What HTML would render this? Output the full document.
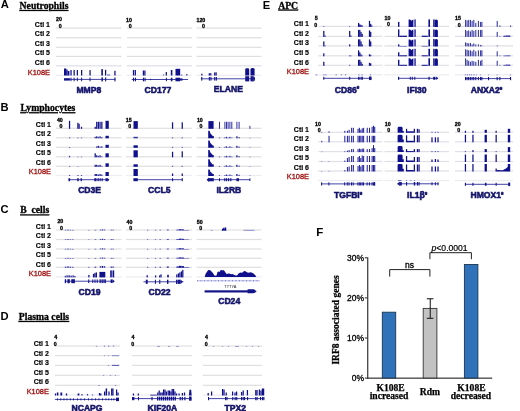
<!DOCTYPE html>
<html><head><meta charset="utf-8"><style>
html,body{margin:0;padding:0;background:#fff;}
body{width:520px;height:411px;overflow:hidden;}
svg{display:block;filter:blur(0.35px);}

</style></head><body>
<svg width="520" height="411" viewBox="0 0 520 411">
<rect width="520" height="411" fill="#fff"/>
<text x="0.8" y="8.4" font-size="11.2" text-anchor="start" font-weight="bold" fill="#000" style="font-family:&quot;Liberation Sans&quot;" >A</text>
<text x="19.6" y="9.0" font-size="9.7" text-anchor="start" font-weight="bold" fill="#000" style="font-family:&quot;Liberation Serif&quot;" text-decoration="underline" stroke="#000" stroke-width="0.3">Neutrophils</text>
<text x="50.0" y="26.7" font-size="7.0" text-anchor="end" font-weight="bold" fill="#000" style="font-family:&quot;Liberation Sans&quot;" stroke="#000" stroke-width="0.15">Ctl 1</text>
<text x="50.0" y="36.25" font-size="7.0" text-anchor="end" font-weight="bold" fill="#000" style="font-family:&quot;Liberation Sans&quot;" stroke="#000" stroke-width="0.15">Ctl 2</text>
<text x="50.0" y="45.8" font-size="7.0" text-anchor="end" font-weight="bold" fill="#000" style="font-family:&quot;Liberation Sans&quot;" stroke="#000" stroke-width="0.15">Ctl 3</text>
<text x="50.0" y="55.35" font-size="7.0" text-anchor="end" font-weight="bold" fill="#000" style="font-family:&quot;Liberation Sans&quot;" stroke="#000" stroke-width="0.15">Ctl 5</text>
<text x="50.0" y="64.9" font-size="7.0" text-anchor="end" font-weight="bold" fill="#000" style="font-family:&quot;Liberation Sans&quot;" stroke="#000" stroke-width="0.15">Ctl 6</text>
<text x="50.0" y="74.5" font-size="7.4" text-anchor="end" font-weight="normal" fill="#a01010" style="font-family:&quot;Liberation Sans&quot;" stroke="#a01010" stroke-width="0.3">K108E</text>
<rect x="56.00" y="27.50" width="65.50" height="1.20" fill="#dfdfdf" />
<rect x="56.00" y="37.20" width="65.50" height="1.20" fill="#dfdfdf" />
<rect x="56.00" y="46.70" width="65.50" height="1.20" fill="#dfdfdf" />
<rect x="56.00" y="55.80" width="65.50" height="1.20" fill="#dfdfdf" />
<rect x="56.00" y="65.10" width="65.50" height="1.20" fill="#dfdfdf" />
<rect x="56.00" y="74.70" width="65.50" height="1.20" fill="#ececf2" />
<rect x="56.00" y="65.10" width="65.50" height="1.20" fill="#e6e6f0" />
<rect x="127.00" y="27.50" width="65.00" height="1.20" fill="#dfdfdf" />
<rect x="127.00" y="37.20" width="65.00" height="1.20" fill="#dfdfdf" />
<rect x="127.00" y="46.70" width="65.00" height="1.20" fill="#dfdfdf" />
<rect x="127.00" y="55.80" width="65.00" height="1.20" fill="#dfdfdf" />
<rect x="127.00" y="65.10" width="65.00" height="1.20" fill="#dfdfdf" />
<rect x="127.00" y="74.70" width="65.00" height="1.20" fill="#ececf2" />
<rect x="127.00" y="65.10" width="65.00" height="1.20" fill="#e6e6f0" />
<rect x="196.50" y="27.50" width="65.00" height="1.20" fill="#dfdfdf" />
<rect x="196.50" y="37.20" width="65.00" height="1.20" fill="#dfdfdf" />
<rect x="196.50" y="46.70" width="65.00" height="1.20" fill="#dfdfdf" />
<rect x="196.50" y="55.80" width="65.00" height="1.20" fill="#dfdfdf" />
<rect x="196.50" y="65.10" width="65.00" height="1.20" fill="#dfdfdf" />
<rect x="196.50" y="74.70" width="65.00" height="1.20" fill="#ececf2" />
<rect x="196.50" y="65.10" width="65.00" height="1.20" fill="#e6e6f0" />
<text x="62" y="21.2" font-size="5.3" text-anchor="end" font-weight="bold" fill="#000" style="font-family:&quot;Liberation Sans&quot;" stroke="#000" stroke-width="0.3">20</text>
<text x="61.6" y="27.8" font-size="5.3" text-anchor="end" font-weight="bold" fill="#000" style="font-family:&quot;Liberation Sans&quot;" stroke="#000" stroke-width="0.3">0</text>
<text x="132" y="21.6" font-size="5.3" text-anchor="end" font-weight="bold" fill="#000" style="font-family:&quot;Liberation Sans&quot;" stroke="#000" stroke-width="0.3">10</text>
<text x="131.6" y="27.9" font-size="5.3" text-anchor="end" font-weight="bold" fill="#000" style="font-family:&quot;Liberation Sans&quot;" stroke="#000" stroke-width="0.3">0</text>
<text x="205.3" y="21.6" font-size="5.3" text-anchor="end" font-weight="bold" fill="#000" style="font-family:&quot;Liberation Sans&quot;" stroke="#000" stroke-width="0.3">120</text>
<text x="204.9" y="27.8" font-size="5.3" text-anchor="end" font-weight="bold" fill="#000" style="font-family:&quot;Liberation Sans&quot;" stroke="#000" stroke-width="0.3">0</text>
<rect x="64.00" y="68.50" width="2.20" height="7.00" fill="#10108c" />
<rect x="66.20" y="69.50" width="1.40" height="6.00" fill="#10108c" />
<rect x="67.60" y="71.00" width="1.80" height="4.50" fill="#10108c" />
<rect x="70.42" y="70.00" width="1.25" height="5.50" fill="#10108c" />
<rect x="73.52" y="70.00" width="1.25" height="5.50" fill="#10108c" />
<rect x="76.72" y="70.00" width="1.25" height="5.50" fill="#10108c" />
<rect x="81.02" y="70.00" width="1.25" height="5.50" fill="#10108c" />
<rect x="89.42" y="70.10" width="1.25" height="5.40" fill="#10108c" />
<rect x="101.30" y="69.10" width="1.60" height="6.40" fill="#10108c" />
<rect x="104.97" y="69.80" width="1.25" height="5.70" fill="#10108c" />
<rect x="107.20" y="74.50" width="2.80" height="1.00" fill="#5252b6" />
<rect x="114.33" y="70.80" width="1.25" height="4.70" fill="#10108c" />
<rect x="64.00" y="78.90" width="51.60" height="1.00" fill="#4444a8" />
<rect x="64.00" y="78.20" width="5.80" height="2.40" fill="#14148a" />
<rect x="70.50" y="77.60" width="1.00" height="3.60" fill="#14148a" />
<rect x="73.60" y="77.60" width="1.00" height="3.60" fill="#14148a" />
<rect x="76.80" y="77.60" width="1.00" height="3.60" fill="#14148a" />
<rect x="81.10" y="77.60" width="1.00" height="3.60" fill="#14148a" />
<rect x="89.50" y="77.50" width="1.00" height="3.80" fill="#14148a" />
<rect x="101.40" y="77.40" width="1.50" height="4.00" fill="#14148a" />
<rect x="105.10" y="77.40" width="1.10" height="4.00" fill="#14148a" />
<rect x="114.40" y="77.40" width="1.10" height="4.00" fill="#14148a" />
<text x="88.8" y="92.8" font-size="8.6" text-anchor="middle" font-weight="bold" fill="#14146a" style="font-family:&quot;Liberation Sans&quot;" stroke="#14146a" stroke-width="0.55">MMP8</text>
<rect x="132.88" y="70.00" width="1.25" height="5.50" fill="#10108c" />
<rect x="134.68" y="70.00" width="1.25" height="5.50" fill="#10108c" />
<rect x="142.78" y="70.50" width="1.25" height="5.00" fill="#10108c" />
<rect x="144.28" y="70.50" width="1.25" height="5.00" fill="#10108c" />
<rect x="162.92" y="74.50" width="1.25" height="1.00" fill="#5252b6" />
<rect x="165.68" y="72.00" width="1.25" height="3.50" fill="#10108c" />
<rect x="170.80" y="70.00" width="1.60" height="5.50" fill="#10108c" />
<rect x="175.50" y="68.80" width="4.70" height="6.70" fill="#10108c" />
<rect x="181.08" y="74.50" width="1.25" height="1.00" fill="#5252b6" />
<rect x="186.18" y="74.00" width="1.25" height="1.50" fill="#3434a2" />
<rect x="131.70" y="79.00" width="56.30" height="1.00" fill="#4444a8" />
<rect x="133.00" y="77.70" width="1.10" height="3.60" fill="#14148a" />
<rect x="134.90" y="77.70" width="1.10" height="3.60" fill="#14148a" />
<rect x="142.90" y="77.70" width="1.10" height="3.60" fill="#14148a" />
<rect x="144.50" y="77.70" width="1.10" height="3.60" fill="#14148a" />
<rect x="150.00" y="78.75" width="0.70" height="1.50" fill="#14148a" />
<rect x="165.90" y="77.80" width="1.00" height="3.40" fill="#14148a" />
<rect x="170.80" y="77.70" width="1.60" height="3.60" fill="#14148a" />
<rect x="175.50" y="77.70" width="4.60" height="3.60" fill="#14148a" />
<rect x="180.10" y="78.40" width="2.40" height="2.20" fill="#14148a" />
<text x="158" y="93.0" font-size="8.6" text-anchor="middle" font-weight="bold" fill="#14146a" style="font-family:&quot;Liberation Sans&quot;" stroke="#14146a" stroke-width="0.55">CD177</text>
<rect x="201.23" y="73.70" width="1.25" height="1.80" fill="#10108c" />
<rect x="208.68" y="73.20" width="1.25" height="2.30" fill="#10108c" />
<rect x="210.18" y="73.20" width="1.25" height="2.30" fill="#10108c" />
<rect x="214.07" y="72.50" width="1.25" height="3.00" fill="#10108c" />
<rect x="215.47" y="72.30" width="1.25" height="3.20" fill="#10108c" />
<path d="M245.2,75.5 V69.7 q0,-1.4 1.4,-1.4 h1.2 q1.4,0 1.4,1.4 V75.5 z" fill="#10108c"/>
<path d="M250.5,75.5 V69.5 q0,-1.5 1.5,-1.5 h1.1 q1.5,0 1.5,1.5 V75.5 z" fill="#10108c"/>
<rect x="200.90" y="78.30" width="53.70" height="1.00" fill="#4444a8" />
<rect x="201.20" y="77.00" width="1.10" height="3.60" fill="#14148a" />
<rect x="208.80" y="77.00" width="1.10" height="3.60" fill="#14148a" />
<rect x="210.40" y="77.00" width="1.10" height="3.60" fill="#14148a" />
<rect x="214.20" y="77.00" width="1.10" height="3.60" fill="#14148a" />
<rect x="215.80" y="77.00" width="1.10" height="3.60" fill="#14148a" />
<rect x="245.20" y="76.20" width="4.00" height="5.20" fill="#14148a" />
<rect x="250.50" y="76.20" width="3.00" height="5.20" fill="#14148a" />
<path d="M253.3,76.2 q1.8,0 1.8,2.6 q0,2.6 -1.8,2.6 z" fill="#14148a"/>
<text x="228.4" y="91.7" font-size="8.6" text-anchor="middle" font-weight="bold" fill="#14146a" style="font-family:&quot;Liberation Sans&quot;" stroke="#14146a" stroke-width="0.55">ELANE</text>
<text x="0.6" y="111.4" font-size="11.2" text-anchor="start" font-weight="bold" fill="#000" style="font-family:&quot;Liberation Sans&quot;" >B</text>
<text x="20.4" y="111.2" font-size="9.7" text-anchor="start" font-weight="bold" fill="#000" style="font-family:&quot;Liberation Serif&quot;" text-decoration="underline" stroke="#000" stroke-width="0.3">Lymphocytes</text>
<text x="51.0" y="126.5" font-size="7.0" text-anchor="end" font-weight="bold" fill="#000" style="font-family:&quot;Liberation Sans&quot;" stroke="#000" stroke-width="0.15">Ctl 1</text>
<text x="51.0" y="136.05" font-size="7.0" text-anchor="end" font-weight="bold" fill="#000" style="font-family:&quot;Liberation Sans&quot;" stroke="#000" stroke-width="0.15">Ctl 2</text>
<text x="51.0" y="145.6" font-size="7.0" text-anchor="end" font-weight="bold" fill="#000" style="font-family:&quot;Liberation Sans&quot;" stroke="#000" stroke-width="0.15">Ctl 3</text>
<text x="51.0" y="155.15" font-size="7.0" text-anchor="end" font-weight="bold" fill="#000" style="font-family:&quot;Liberation Sans&quot;" stroke="#000" stroke-width="0.15">Ctl 5</text>
<text x="51.0" y="164.7" font-size="7.0" text-anchor="end" font-weight="bold" fill="#000" style="font-family:&quot;Liberation Sans&quot;" stroke="#000" stroke-width="0.15">Ctl 6</text>
<text x="51.0" y="174.25" font-size="7.4" text-anchor="end" font-weight="normal" fill="#a01010" style="font-family:&quot;Liberation Sans&quot;" stroke="#a01010" stroke-width="0.3">K108E</text>
<rect x="56.00" y="127.70" width="65.50" height="1.20" fill="#dfdfdf" />
<rect x="56.00" y="137.20" width="65.50" height="1.20" fill="#dfdfdf" />
<rect x="56.00" y="146.70" width="65.50" height="1.20" fill="#dfdfdf" />
<rect x="56.00" y="156.20" width="65.50" height="1.20" fill="#dfdfdf" />
<rect x="56.00" y="165.70" width="65.50" height="1.20" fill="#dfdfdf" />
<rect x="56.00" y="174.90" width="65.50" height="1.20" fill="#ececf2" />
<rect x="126.00" y="127.70" width="66.00" height="1.20" fill="#dfdfdf" />
<rect x="126.00" y="137.20" width="66.00" height="1.20" fill="#dfdfdf" />
<rect x="126.00" y="146.70" width="66.00" height="1.20" fill="#dfdfdf" />
<rect x="126.00" y="156.20" width="66.00" height="1.20" fill="#dfdfdf" />
<rect x="126.00" y="165.70" width="66.00" height="1.20" fill="#dfdfdf" />
<rect x="126.00" y="174.90" width="66.00" height="1.20" fill="#ececf2" />
<rect x="196.50" y="127.70" width="65.00" height="1.20" fill="#dfdfdf" />
<rect x="196.50" y="137.20" width="65.00" height="1.20" fill="#dfdfdf" />
<rect x="196.50" y="146.70" width="65.00" height="1.20" fill="#dfdfdf" />
<rect x="196.50" y="156.20" width="65.00" height="1.20" fill="#dfdfdf" />
<rect x="196.50" y="165.70" width="65.00" height="1.20" fill="#dfdfdf" />
<rect x="196.50" y="174.90" width="65.00" height="1.20" fill="#ececf2" />
<text x="62.8" y="121.5" font-size="5.3" text-anchor="end" font-weight="bold" fill="#000" style="font-family:&quot;Liberation Sans&quot;" stroke="#000" stroke-width="0.3">40</text>
<text x="62.4" y="128.0" font-size="5.3" text-anchor="end" font-weight="bold" fill="#000" style="font-family:&quot;Liberation Sans&quot;" stroke="#000" stroke-width="0.3">0</text>
<text x="131.7" y="121.6" font-size="5.3" text-anchor="end" font-weight="bold" fill="#000" style="font-family:&quot;Liberation Sans&quot;" stroke="#000" stroke-width="0.3">15</text>
<text x="131.29999999999998" y="127.8" font-size="5.3" text-anchor="end" font-weight="bold" fill="#000" style="font-family:&quot;Liberation Sans&quot;" stroke="#000" stroke-width="0.3">0</text>
<text x="202.8" y="122.2" font-size="5.3" text-anchor="end" font-weight="bold" fill="#000" style="font-family:&quot;Liberation Sans&quot;" stroke="#000" stroke-width="0.3">10</text>
<text x="202.4" y="128.3" font-size="5.3" text-anchor="end" font-weight="bold" fill="#000" style="font-family:&quot;Liberation Sans&quot;" stroke="#000" stroke-width="0.3">0</text>
<rect x="68.92" y="120.80" width="1.25" height="8.00" fill="#10108c" />
<rect x="77.28" y="122.80" width="1.25" height="6.00" fill="#10108c" />
<rect x="78.47" y="123.80" width="1.25" height="5.00" fill="#10108c" />
<rect x="80.88" y="126.80" width="1.25" height="2.00" fill="#10108c" />
<rect x="94.58" y="126.80" width="1.25" height="2.00" fill="#10108c" />
<rect x="96.12" y="121.80" width="1.25" height="7.00" fill="#10108c" />
<rect x="97.72" y="121.80" width="1.25" height="7.00" fill="#10108c" />
<rect x="99.42" y="121.80" width="1.25" height="7.00" fill="#10108c" />
<rect x="101.22" y="121.80" width="1.25" height="7.00" fill="#10108c" />
<rect x="105.50" y="120.80" width="3.30" height="8.00" fill="#10108c" />
<rect x="68.92" y="137.30" width="1.25" height="1.00" fill="#5252b6" />
<rect x="77.28" y="137.50" width="1.25" height="0.80" fill="#5252b6" />
<rect x="80.88" y="137.50" width="1.25" height="0.80" fill="#5252b6" />
<rect x="94.58" y="136.80" width="1.25" height="1.50" fill="#3434a2" />
<rect x="96.12" y="136.30" width="1.25" height="2.00" fill="#10108c" />
<rect x="97.72" y="136.80" width="1.25" height="1.50" fill="#3434a2" />
<rect x="99.42" y="136.30" width="1.25" height="2.00" fill="#10108c" />
<rect x="101.22" y="137.10" width="1.25" height="1.20" fill="#3434a2" />
<rect x="105.50" y="135.80" width="3.30" height="2.50" fill="#10108c" />
<rect x="68.92" y="147.00" width="1.25" height="0.80" fill="#5252b6" />
<rect x="96.12" y="146.30" width="1.25" height="1.50" fill="#3434a2" />
<rect x="97.72" y="145.80" width="1.25" height="2.00" fill="#10108c" />
<rect x="99.42" y="146.60" width="1.25" height="1.20" fill="#3434a2" />
<rect x="101.22" y="146.30" width="1.25" height="1.50" fill="#3434a2" />
<rect x="105.50" y="144.80" width="3.30" height="3.00" fill="#10108c" />
<rect x="68.92" y="155.80" width="1.25" height="1.50" fill="#3434a2" />
<rect x="77.28" y="156.70" width="1.25" height="0.60" fill="#5252b6" />
<rect x="80.88" y="156.70" width="1.25" height="0.60" fill="#5252b6" />
<rect x="94.58" y="153.30" width="1.25" height="4.00" fill="#10108c" />
<rect x="96.12" y="155.30" width="1.25" height="2.00" fill="#10108c" />
<rect x="97.72" y="155.80" width="1.25" height="1.50" fill="#3434a2" />
<rect x="99.42" y="155.30" width="1.25" height="2.00" fill="#10108c" />
<rect x="101.22" y="156.30" width="1.25" height="1.00" fill="#5252b6" />
<rect x="105.50" y="153.30" width="3.30" height="4.00" fill="#10108c" />
<rect x="68.92" y="166.00" width="1.25" height="0.80" fill="#5252b6" />
<rect x="77.28" y="166.30" width="1.25" height="0.50" fill="#5252b6" />
<rect x="94.58" y="164.80" width="1.25" height="2.00" fill="#10108c" />
<rect x="96.12" y="164.80" width="1.25" height="2.00" fill="#10108c" />
<rect x="97.72" y="165.30" width="1.25" height="1.50" fill="#3434a2" />
<rect x="99.42" y="164.80" width="1.25" height="2.00" fill="#10108c" />
<rect x="101.22" y="165.80" width="1.25" height="1.00" fill="#5252b6" />
<rect x="105.50" y="163.30" width="3.30" height="3.50" fill="#10108c" />
<rect x="68.92" y="175.00" width="1.25" height="1.00" fill="#5252b6" />
<rect x="77.28" y="175.00" width="1.25" height="1.00" fill="#5252b6" />
<rect x="80.88" y="175.00" width="1.25" height="1.00" fill="#5252b6" />
<rect x="94.58" y="174.00" width="1.25" height="2.00" fill="#10108c" />
<rect x="96.12" y="174.00" width="1.25" height="2.00" fill="#10108c" />
<rect x="97.72" y="174.50" width="1.25" height="1.50" fill="#3434a2" />
<rect x="99.42" y="174.00" width="1.25" height="2.00" fill="#10108c" />
<rect x="101.22" y="174.50" width="1.25" height="1.50" fill="#3434a2" />
<rect x="105.50" y="172.00" width="3.30" height="4.00" fill="#10108c" />
<rect x="68.50" y="179.20" width="40.30" height="1.00" fill="#4444a8" />
<rect x="68.50" y="178.20" width="1.60" height="3.00" fill="#14148a" />
<rect x="77.20" y="178.20" width="1.50" height="3.00" fill="#14148a" />
<rect x="80.60" y="178.20" width="1.30" height="3.00" fill="#14148a" />
<rect x="94.30" y="178.20" width="2.20" height="3.00" fill="#14148a" />
<rect x="97.50" y="178.20" width="1.30" height="3.00" fill="#14148a" />
<rect x="99.60" y="178.20" width="1.10" height="3.00" fill="#14148a" />
<rect x="101.60" y="178.20" width="1.10" height="3.00" fill="#14148a" />
<rect x="105.50" y="178.20" width="2.30" height="3.00" fill="#14148a" />
<polygon points="107.6,177.9 109.3,179.7 107.6,181.5" fill="#14148a"/>
<text x="89.6" y="193.2" font-size="8.6" text-anchor="middle" font-weight="bold" fill="#14146a" style="font-family:&quot;Liberation Sans&quot;" stroke="#14146a" stroke-width="0.55">CD3E</text>
<rect x="133.50" y="121.10" width="4.30" height="7.70" fill="#10108c" />
<rect x="171.93" y="122.30" width="1.25" height="6.50" fill="#10108c" />
<rect x="181.62" y="122.30" width="1.25" height="6.50" fill="#10108c" />
<rect x="133.50" y="136.80" width="4.30" height="1.50" fill="#3434a2" />
<rect x="171.93" y="137.30" width="1.25" height="1.00" fill="#5252b6" />
<rect x="181.62" y="137.30" width="1.25" height="1.00" fill="#5252b6" />
<rect x="133.50" y="145.30" width="4.30" height="2.50" fill="#10108c" />
<rect x="171.93" y="146.80" width="1.25" height="1.00" fill="#5252b6" />
<rect x="181.62" y="146.80" width="1.25" height="1.00" fill="#5252b6" />
<rect x="133.50" y="150.30" width="4.30" height="7.00" fill="#10108c" />
<rect x="171.93" y="151.80" width="1.25" height="5.50" fill="#10108c" />
<rect x="181.62" y="151.30" width="1.25" height="6.00" fill="#10108c" />
<rect x="133.50" y="164.30" width="4.30" height="2.50" fill="#10108c" />
<rect x="171.93" y="165.80" width="1.25" height="1.00" fill="#5252b6" />
<rect x="181.62" y="165.80" width="1.25" height="1.00" fill="#5252b6" />
<rect x="133.50" y="169.00" width="4.30" height="7.00" fill="#10108c" />
<rect x="171.93" y="173.50" width="1.25" height="2.50" fill="#10108c" />
<rect x="181.62" y="173.50" width="1.25" height="2.50" fill="#10108c" />
<rect x="133.50" y="179.20" width="49.00" height="1.00" fill="#4444a8" />
<rect x="133.50" y="178.20" width="4.30" height="3.00" fill="#14148a" />
<rect x="172.00" y="178.20" width="1.10" height="3.00" fill="#14148a" />
<rect x="181.70" y="178.20" width="1.10" height="3.00" fill="#14148a" />
<text x="159.3" y="193.2" font-size="8.6" text-anchor="middle" font-weight="bold" fill="#14146a" style="font-family:&quot;Liberation Sans&quot;" stroke="#14146a" stroke-width="0.55">CCL5</text>
<rect x="208.40" y="121.10" width="5.20" height="7.70" fill="#10108c" />
<rect x="219.00" y="121.80" width="1.00" height="7.00" fill="#3030a0" />
<rect x="224.40" y="121.80" width="1.00" height="7.00" fill="#3030a0" />
<rect x="226.00" y="121.80" width="1.00" height="7.00" fill="#3030a0" />
<rect x="227.60" y="121.80" width="1.00" height="7.00" fill="#3030a0" />
<rect x="229.40" y="121.80" width="1.00" height="7.00" fill="#3030a0" />
<rect x="231.30" y="121.80" width="1.00" height="7.00" fill="#3030a0" />
<rect x="236.40" y="121.80" width="1.00" height="7.00" fill="#3030a0" />
<rect x="238.60" y="121.80" width="1.00" height="7.00" fill="#3030a0" />
<rect x="249.40" y="125.80" width="1.00" height="3.00" fill="#3030a0" />
<polygon points="208.2,138.3 208.2,130.8 209.6,130.8 210.2,133.05 211.2,134.175 212.4,135.675 213.8,136.05 213.8,138.3" fill="#10108c"/>
<rect x="218.88" y="137.50" width="1.25" height="0.80" fill="#5252b6" />
<rect x="224.28" y="137.30" width="1.25" height="1.00" fill="#5252b6" />
<rect x="225.88" y="136.80" width="1.25" height="1.50" fill="#3434a2" />
<rect x="227.47" y="137.50" width="1.25" height="0.80" fill="#5252b6" />
<rect x="229.28" y="136.80" width="1.25" height="1.50" fill="#3434a2" />
<rect x="231.18" y="137.50" width="1.25" height="0.80" fill="#5252b6" />
<rect x="236.28" y="136.30" width="1.25" height="2.00" fill="#10108c" />
<rect x="238.47" y="137.10" width="1.25" height="1.20" fill="#3434a2" />
<rect x="249.28" y="137.80" width="1.25" height="0.50" fill="#5252b6" />
<polygon points="208.2,147.8 208.2,140.60000000000002 209.6,140.60000000000002 210.2,142.76000000000002 211.2,143.84 212.4,145.28 213.8,145.64000000000001 213.8,147.8" fill="#10108c"/>
<rect x="218.88" y="147.00" width="1.25" height="0.80" fill="#5252b6" />
<rect x="224.28" y="146.80" width="1.25" height="1.00" fill="#5252b6" />
<rect x="225.88" y="146.30" width="1.25" height="1.50" fill="#3434a2" />
<rect x="227.47" y="147.00" width="1.25" height="0.80" fill="#5252b6" />
<rect x="229.28" y="146.30" width="1.25" height="1.50" fill="#3434a2" />
<rect x="231.18" y="147.00" width="1.25" height="0.80" fill="#5252b6" />
<rect x="236.28" y="145.80" width="1.25" height="2.00" fill="#10108c" />
<rect x="238.47" y="146.60" width="1.25" height="1.20" fill="#3434a2" />
<rect x="249.28" y="147.30" width="1.25" height="0.50" fill="#5252b6" />
<polygon points="208.2,157.3 208.2,150.10000000000002 209.6,150.10000000000002 210.2,152.26000000000002 211.2,153.34 212.4,154.78 213.8,155.14000000000001 213.8,157.3" fill="#10108c"/>
<rect x="218.88" y="156.50" width="1.25" height="0.80" fill="#5252b6" />
<rect x="224.28" y="156.30" width="1.25" height="1.00" fill="#5252b6" />
<rect x="225.88" y="155.80" width="1.25" height="1.50" fill="#3434a2" />
<rect x="227.47" y="156.50" width="1.25" height="0.80" fill="#5252b6" />
<rect x="229.28" y="155.80" width="1.25" height="1.50" fill="#3434a2" />
<rect x="231.18" y="156.50" width="1.25" height="0.80" fill="#5252b6" />
<rect x="236.28" y="155.30" width="1.25" height="2.00" fill="#10108c" />
<rect x="238.47" y="156.10" width="1.25" height="1.20" fill="#3434a2" />
<rect x="249.28" y="156.80" width="1.25" height="0.50" fill="#5252b6" />
<polygon points="208.2,166.8 208.2,159.3 209.6,159.3 210.2,161.55 211.2,162.675 212.4,164.175 213.8,164.55 213.8,166.8" fill="#10108c"/>
<rect x="218.88" y="166.00" width="1.25" height="0.80" fill="#5252b6" />
<rect x="224.28" y="165.80" width="1.25" height="1.00" fill="#5252b6" />
<rect x="225.88" y="165.30" width="1.25" height="1.50" fill="#3434a2" />
<rect x="227.47" y="166.00" width="1.25" height="0.80" fill="#5252b6" />
<rect x="229.28" y="165.30" width="1.25" height="1.50" fill="#3434a2" />
<rect x="231.18" y="166.00" width="1.25" height="0.80" fill="#5252b6" />
<rect x="236.28" y="164.80" width="1.25" height="2.00" fill="#10108c" />
<rect x="238.47" y="165.60" width="1.25" height="1.20" fill="#3434a2" />
<rect x="249.28" y="166.30" width="1.25" height="0.50" fill="#5252b6" />
<polygon points="208.2,176.0 208.2,169.5 209.6,169.5 210.2,171.45 211.2,172.425 212.4,173.725 213.8,174.05 213.8,176.0" fill="#10108c"/>
<rect x="218.88" y="175.20" width="1.25" height="0.80" fill="#5252b6" />
<rect x="224.28" y="175.00" width="1.25" height="1.00" fill="#5252b6" />
<rect x="225.88" y="174.50" width="1.25" height="1.50" fill="#3434a2" />
<rect x="227.47" y="175.20" width="1.25" height="0.80" fill="#5252b6" />
<rect x="229.28" y="174.50" width="1.25" height="1.50" fill="#3434a2" />
<rect x="231.18" y="175.20" width="1.25" height="0.80" fill="#5252b6" />
<rect x="236.28" y="174.00" width="1.25" height="2.00" fill="#10108c" />
<rect x="238.47" y="174.80" width="1.25" height="1.20" fill="#3434a2" />
<rect x="249.28" y="175.50" width="1.25" height="0.50" fill="#5252b6" />
<rect x="207.00" y="179.20" width="43.00" height="1.00" fill="#4444a8" />
<rect x="208.80" y="178.10" width="5.00" height="3.20" fill="#14148a" />
<rect x="219.00" y="178.20" width="1.00" height="3.00" fill="#14148a" />
<rect x="224.20" y="178.20" width="1.20" height="3.00" fill="#14148a" />
<rect x="226.00" y="178.20" width="1.20" height="3.00" fill="#14148a" />
<rect x="228.00" y="178.20" width="1.20" height="3.00" fill="#14148a" />
<rect x="230.20" y="178.20" width="1.20" height="3.00" fill="#14148a" />
<rect x="236.40" y="178.20" width="2.60" height="3.00" fill="#14148a" />
<rect x="249.40" y="178.45" width="1.00" height="2.50" fill="#14148a" />
<polygon points="209,177.5 206.6,179.7 209,181.9" fill="#14148a"/>
<text x="228.9" y="193.2" font-size="8.6" text-anchor="middle" font-weight="bold" fill="#14146a" style="font-family:&quot;Liberation Sans&quot;" stroke="#14146a" stroke-width="0.55">IL2RB</text>
<text x="0.5" y="213.0" font-size="11.2" text-anchor="start" font-weight="bold" fill="#000" style="font-family:&quot;Liberation Sans&quot;" >C</text>
<text x="20.2" y="213.4" font-size="9.7" text-anchor="start" font-weight="bold" fill="#000" style="font-family:&quot;Liberation Serif&quot;" text-decoration="underline" stroke="#000" stroke-width="0.3">B&#160; cells</text>
<text x="51.0" y="228.6" font-size="7.0" text-anchor="end" font-weight="bold" fill="#000" style="font-family:&quot;Liberation Sans&quot;" stroke="#000" stroke-width="0.15">Ctl 1</text>
<text x="51.0" y="238.1" font-size="7.0" text-anchor="end" font-weight="bold" fill="#000" style="font-family:&quot;Liberation Sans&quot;" stroke="#000" stroke-width="0.15">Ctl 2</text>
<text x="51.0" y="247.6" font-size="7.0" text-anchor="end" font-weight="bold" fill="#000" style="font-family:&quot;Liberation Sans&quot;" stroke="#000" stroke-width="0.15">Ctl 3</text>
<text x="51.0" y="257.1" font-size="7.0" text-anchor="end" font-weight="bold" fill="#000" style="font-family:&quot;Liberation Sans&quot;" stroke="#000" stroke-width="0.15">Ctl 5</text>
<text x="51.0" y="266.6" font-size="7.0" text-anchor="end" font-weight="bold" fill="#000" style="font-family:&quot;Liberation Sans&quot;" stroke="#000" stroke-width="0.15">Ctl 6</text>
<text x="51.0" y="276.1" font-size="7.4" text-anchor="end" font-weight="normal" fill="#a01010" style="font-family:&quot;Liberation Sans&quot;" stroke="#a01010" stroke-width="0.3">K108E</text>
<rect x="56.00" y="229.40" width="65.50" height="1.20" fill="#dfdfdf" />
<rect x="56.00" y="238.90" width="65.50" height="1.20" fill="#dfdfdf" />
<rect x="56.00" y="248.40" width="65.50" height="1.20" fill="#dfdfdf" />
<rect x="56.00" y="257.60" width="65.50" height="1.20" fill="#dfdfdf" />
<rect x="56.00" y="266.70" width="65.50" height="1.20" fill="#dfdfdf" />
<rect x="56.00" y="276.30" width="65.50" height="1.20" fill="#ececf2" />
<rect x="126.00" y="229.40" width="66.00" height="1.20" fill="#dfdfdf" />
<rect x="126.00" y="238.90" width="66.00" height="1.20" fill="#dfdfdf" />
<rect x="126.00" y="248.40" width="66.00" height="1.20" fill="#dfdfdf" />
<rect x="126.00" y="257.60" width="66.00" height="1.20" fill="#dfdfdf" />
<rect x="126.00" y="266.70" width="66.00" height="1.20" fill="#dfdfdf" />
<rect x="126.00" y="276.30" width="66.00" height="1.20" fill="#ececf2" />
<rect x="196.50" y="229.40" width="65.00" height="1.20" fill="#dfdfdf" />
<rect x="196.50" y="238.90" width="65.00" height="1.20" fill="#dfdfdf" />
<rect x="196.50" y="248.40" width="65.00" height="1.20" fill="#dfdfdf" />
<rect x="196.50" y="257.60" width="65.00" height="1.20" fill="#dfdfdf" />
<rect x="196.50" y="266.70" width="65.00" height="1.20" fill="#dfdfdf" />
<rect x="196.50" y="276.30" width="65.00" height="1.20" fill="#ececf2" />
<text x="63.3" y="223.3" font-size="5.3" text-anchor="end" font-weight="bold" fill="#000" style="font-family:&quot;Liberation Sans&quot;" stroke="#000" stroke-width="0.3">20</text>
<text x="62.9" y="230.2" font-size="5.3" text-anchor="end" font-weight="bold" fill="#000" style="font-family:&quot;Liberation Sans&quot;" stroke="#000" stroke-width="0.3">0</text>
<text x="132.5" y="223.8" font-size="5.3" text-anchor="end" font-weight="bold" fill="#000" style="font-family:&quot;Liberation Sans&quot;" stroke="#000" stroke-width="0.3">40</text>
<text x="132.1" y="230.2" font-size="5.3" text-anchor="end" font-weight="bold" fill="#000" style="font-family:&quot;Liberation Sans&quot;" stroke="#000" stroke-width="0.3">0</text>
<text x="202.6" y="223.8" font-size="5.3" text-anchor="end" font-weight="bold" fill="#000" style="font-family:&quot;Liberation Sans&quot;" stroke="#000" stroke-width="0.3">50</text>
<text x="202.2" y="230.3" font-size="5.3" text-anchor="end" font-weight="bold" fill="#000" style="font-family:&quot;Liberation Sans&quot;" stroke="#000" stroke-width="0.3">0</text>
<rect x="64.80" y="229.80" width="1.60" height="0.70" fill="#5252b6" />
<rect x="67.20" y="229.60" width="1.60" height="0.90" fill="#5252b6" />
<rect x="69.60" y="229.80" width="1.60" height="0.70" fill="#5252b6" />
<rect x="72.00" y="229.90" width="1.60" height="0.60" fill="#5252b6" />
<rect x="88.28" y="229.90" width="1.25" height="0.60" fill="#5252b6" />
<rect x="94.60" y="229.80" width="1.60" height="0.70" fill="#5252b6" />
<rect x="99.80" y="229.50" width="1.40" height="1.00" fill="#5252b6" />
<rect x="101.80" y="229.30" width="1.40" height="1.20" fill="#3434a2" />
<rect x="103.80" y="229.50" width="1.40" height="1.00" fill="#5252b6" />
<rect x="110.60" y="229.70" width="1.40" height="0.80" fill="#5252b6" />
<rect x="112.40" y="229.70" width="1.40" height="0.80" fill="#5252b6" />
<rect x="64.80" y="239.30" width="1.60" height="0.70" fill="#5252b6" />
<rect x="67.20" y="239.10" width="1.60" height="0.90" fill="#5252b6" />
<rect x="69.60" y="239.30" width="1.60" height="0.70" fill="#5252b6" />
<rect x="72.00" y="239.40" width="1.60" height="0.60" fill="#5252b6" />
<rect x="88.28" y="239.40" width="1.25" height="0.60" fill="#5252b6" />
<rect x="94.60" y="239.30" width="1.60" height="0.70" fill="#5252b6" />
<rect x="99.80" y="239.00" width="1.40" height="1.00" fill="#5252b6" />
<rect x="101.80" y="238.80" width="1.40" height="1.20" fill="#3434a2" />
<rect x="103.80" y="239.00" width="1.40" height="1.00" fill="#5252b6" />
<rect x="110.60" y="239.20" width="1.40" height="0.80" fill="#5252b6" />
<rect x="112.40" y="239.20" width="1.40" height="0.80" fill="#5252b6" />
<rect x="64.80" y="248.80" width="1.60" height="0.70" fill="#5252b6" />
<rect x="67.20" y="248.60" width="1.60" height="0.90" fill="#5252b6" />
<rect x="69.60" y="248.80" width="1.60" height="0.70" fill="#5252b6" />
<rect x="72.00" y="248.90" width="1.60" height="0.60" fill="#5252b6" />
<rect x="88.28" y="248.90" width="1.25" height="0.60" fill="#5252b6" />
<rect x="94.60" y="248.80" width="1.60" height="0.70" fill="#5252b6" />
<rect x="99.80" y="248.50" width="1.40" height="1.00" fill="#5252b6" />
<rect x="101.80" y="248.30" width="1.40" height="1.20" fill="#3434a2" />
<rect x="103.80" y="248.50" width="1.40" height="1.00" fill="#5252b6" />
<rect x="110.60" y="248.70" width="1.40" height="0.80" fill="#5252b6" />
<rect x="112.40" y="248.70" width="1.40" height="0.80" fill="#5252b6" />
<rect x="64.80" y="258.00" width="1.60" height="0.70" fill="#5252b6" />
<rect x="67.20" y="257.80" width="1.60" height="0.90" fill="#5252b6" />
<rect x="69.60" y="258.00" width="1.60" height="0.70" fill="#5252b6" />
<rect x="72.00" y="258.10" width="1.60" height="0.60" fill="#5252b6" />
<rect x="88.28" y="258.10" width="1.25" height="0.60" fill="#5252b6" />
<rect x="94.60" y="258.00" width="1.60" height="0.70" fill="#5252b6" />
<rect x="99.80" y="257.70" width="1.40" height="1.00" fill="#5252b6" />
<rect x="101.80" y="257.50" width="1.40" height="1.20" fill="#3434a2" />
<rect x="103.80" y="257.70" width="1.40" height="1.00" fill="#5252b6" />
<rect x="110.60" y="257.90" width="1.40" height="0.80" fill="#5252b6" />
<rect x="112.40" y="257.90" width="1.40" height="0.80" fill="#5252b6" />
<rect x="64.80" y="266.68" width="1.60" height="1.12" fill="#3434a2" />
<rect x="67.20" y="266.36" width="1.60" height="1.44" fill="#3434a2" />
<rect x="69.60" y="266.68" width="1.60" height="1.12" fill="#3434a2" />
<rect x="72.00" y="266.84" width="1.60" height="0.96" fill="#5252b6" />
<rect x="88.28" y="266.84" width="1.25" height="0.96" fill="#5252b6" />
<rect x="94.60" y="266.68" width="1.60" height="1.12" fill="#3434a2" />
<rect x="99.80" y="266.20" width="1.40" height="1.60" fill="#3434a2" />
<rect x="101.80" y="265.88" width="1.40" height="1.92" fill="#10108c" />
<rect x="103.80" y="266.20" width="1.40" height="1.60" fill="#3434a2" />
<rect x="110.60" y="266.52" width="1.40" height="1.28" fill="#3434a2" />
<rect x="112.40" y="266.52" width="1.40" height="1.28" fill="#3434a2" />
<rect x="64.67" y="275.80" width="1.25" height="1.60" fill="#3434a2" />
<rect x="66.47" y="275.40" width="1.25" height="2.00" fill="#10108c" />
<rect x="68.47" y="275.20" width="1.25" height="2.20" fill="#10108c" />
<rect x="70.47" y="275.60" width="1.25" height="1.80" fill="#10108c" />
<rect x="72.47" y="275.40" width="1.25" height="2.00" fill="#10108c" />
<rect x="74.28" y="275.90" width="1.25" height="1.50" fill="#3434a2" />
<rect x="88.27" y="274.90" width="1.25" height="2.50" fill="#10108c" />
<rect x="92.90" y="273.90" width="1.40" height="3.50" fill="#10108c" />
<rect x="94.38" y="272.90" width="1.25" height="4.50" fill="#10108c" />
<rect x="95.77" y="272.40" width="1.25" height="5.00" fill="#10108c" />
<rect x="99.40" y="271.90" width="5.90" height="5.50" fill="#10108c" />
<rect x="110.20" y="270.40" width="1.60" height="7.00" fill="#10108c" />
<rect x="112.50" y="270.40" width="1.70" height="7.00" fill="#10108c" />
<rect x="64.70" y="280.70" width="49.50" height="1.00" fill="#4444a8" />
<rect x="64.80" y="279.20" width="1.30" height="4.00" fill="#14148a" />
<rect x="67.40" y="279.20" width="2.40" height="4.00" fill="#14148a" />
<rect x="71.30" y="279.20" width="3.60" height="4.00" fill="#14148a" />
<rect x="88.20" y="279.40" width="1.10" height="3.60" fill="#14148a" />
<rect x="92.30" y="279.40" width="1.00" height="3.60" fill="#14148a" />
<rect x="94.50" y="279.40" width="1.00" height="3.60" fill="#14148a" />
<rect x="96.70" y="279.40" width="1.00" height="3.60" fill="#14148a" />
<rect x="99.50" y="279.30" width="1.30" height="3.80" fill="#14148a" />
<rect x="101.50" y="279.30" width="1.30" height="3.80" fill="#14148a" />
<rect x="103.40" y="279.30" width="1.30" height="3.80" fill="#14148a" />
<rect x="105.00" y="279.30" width="0.90" height="3.80" fill="#14148a" />
<rect x="110.60" y="279.40" width="1.90" height="3.60" fill="#14148a" />
<polygon points="112.6,279.2 114.6,281.2 112.6,283.2" fill="#14148a"/>
<text x="89.5" y="294.8" font-size="8.6" text-anchor="middle" font-weight="bold" fill="#14146a" style="font-family:&quot;Liberation Sans&quot;" stroke="#14146a" stroke-width="0.55">CD19</text>
<rect x="146.97" y="229.80" width="1.25" height="0.70" fill="#5252b6" />
<rect x="154.88" y="229.80" width="1.25" height="0.70" fill="#5252b6" />
<rect x="159.57" y="229.70" width="1.25" height="0.80" fill="#5252b6" />
<rect x="166.80" y="229.50" width="2.00" height="1.00" fill="#5252b6" />
<rect x="176.40" y="229.50" width="2.60" height="1.00" fill="#5252b6" />
<rect x="179.00" y="229.10" width="2.60" height="1.40" fill="#3434a2" />
<rect x="181.60" y="229.30" width="2.40" height="1.20" fill="#3434a2" />
<rect x="184.00" y="230.00" width="5.00" height="0.50" fill="#5252b6" />
<rect x="146.97" y="239.30" width="1.25" height="0.70" fill="#5252b6" />
<rect x="154.88" y="239.30" width="1.25" height="0.70" fill="#5252b6" />
<rect x="159.57" y="239.20" width="1.25" height="0.80" fill="#5252b6" />
<rect x="166.80" y="239.00" width="2.00" height="1.00" fill="#5252b6" />
<rect x="176.40" y="239.00" width="2.60" height="1.00" fill="#5252b6" />
<rect x="179.00" y="238.60" width="2.60" height="1.40" fill="#3434a2" />
<rect x="181.60" y="238.80" width="2.40" height="1.20" fill="#3434a2" />
<rect x="184.00" y="239.50" width="5.00" height="0.50" fill="#5252b6" />
<rect x="146.97" y="248.80" width="1.25" height="0.70" fill="#5252b6" />
<rect x="154.88" y="248.80" width="1.25" height="0.70" fill="#5252b6" />
<rect x="159.57" y="248.70" width="1.25" height="0.80" fill="#5252b6" />
<rect x="166.80" y="248.50" width="2.00" height="1.00" fill="#5252b6" />
<rect x="176.40" y="248.50" width="2.60" height="1.00" fill="#5252b6" />
<rect x="179.00" y="248.10" width="2.60" height="1.40" fill="#3434a2" />
<rect x="181.60" y="248.30" width="2.40" height="1.20" fill="#3434a2" />
<rect x="184.00" y="249.00" width="5.00" height="0.50" fill="#5252b6" />
<rect x="146.97" y="258.00" width="1.25" height="0.70" fill="#5252b6" />
<rect x="154.88" y="258.00" width="1.25" height="0.70" fill="#5252b6" />
<rect x="159.57" y="257.90" width="1.25" height="0.80" fill="#5252b6" />
<rect x="166.80" y="257.70" width="2.00" height="1.00" fill="#5252b6" />
<rect x="176.40" y="257.70" width="2.60" height="1.00" fill="#5252b6" />
<rect x="179.00" y="257.30" width="2.60" height="1.40" fill="#3434a2" />
<rect x="181.60" y="257.50" width="2.40" height="1.20" fill="#3434a2" />
<rect x="184.00" y="258.20" width="5.00" height="0.50" fill="#5252b6" />
<rect x="146.97" y="266.82" width="1.25" height="0.98" fill="#5252b6" />
<rect x="154.88" y="266.82" width="1.25" height="0.98" fill="#5252b6" />
<rect x="159.57" y="266.68" width="1.25" height="1.12" fill="#3434a2" />
<rect x="166.80" y="266.40" width="2.00" height="1.40" fill="#3434a2" />
<rect x="176.40" y="266.40" width="2.60" height="1.40" fill="#3434a2" />
<rect x="179.00" y="265.84" width="2.60" height="1.96" fill="#10108c" />
<rect x="181.60" y="266.12" width="2.40" height="1.68" fill="#10108c" />
<rect x="184.00" y="267.10" width="5.00" height="0.70" fill="#5252b6" />
<rect x="146.57" y="275.20" width="1.25" height="2.20" fill="#10108c" />
<rect x="154.97" y="275.40" width="1.25" height="2.00" fill="#10108c" />
<rect x="159.07" y="275.40" width="1.25" height="2.00" fill="#10108c" />
<rect x="160.38" y="274.40" width="1.25" height="3.00" fill="#10108c" />
<rect x="167.20" y="274.80" width="1.60" height="2.60" fill="#10108c" />
<rect x="176.17" y="274.40" width="1.25" height="3.00" fill="#10108c" />
<rect x="177.78" y="273.40" width="1.25" height="4.00" fill="#10108c" />
<rect x="179.28" y="272.40" width="1.25" height="5.00" fill="#10108c" />
<rect x="180.78" y="271.40" width="1.25" height="6.00" fill="#10108c" />
<rect x="182.17" y="269.90" width="1.25" height="7.50" fill="#10108c" />
<rect x="143.50" y="281.30" width="39.90" height="1.00" fill="#4444a8" />
<rect x="145.80" y="279.70" width="1.90" height="4.20" fill="#14148a" />
<rect x="154.90" y="279.70" width="1.00" height="4.20" fill="#14148a" />
<rect x="159.20" y="279.70" width="1.10" height="4.20" fill="#14148a" />
<rect x="167.00" y="279.70" width="1.40" height="4.20" fill="#14148a" />
<rect x="176.00" y="279.70" width="1.60" height="4.20" fill="#14148a" />
<rect x="178.00" y="279.70" width="2.60" height="4.20" fill="#14148a" />
<polygon points="180.6,279.6 182.8,281.8 180.6,284.0" fill="#14148a"/>
<text x="159.5" y="294.8" font-size="8.6" text-anchor="middle" font-weight="bold" fill="#14146a" style="font-family:&quot;Liberation Sans&quot;" stroke="#14146a" stroke-width="0.55">CD22</text>
<rect x="210.80" y="230.00" width="1.80" height="0.50" fill="#5252b6" />
<rect x="222.00" y="229.00" width="1.80" height="1.50" fill="#3434a2" />
<rect x="224.60" y="227.50" width="1.60" height="3.00" fill="#10108c" />
<rect x="243.50" y="229.90" width="11.00" height="0.60" fill="#5252b6" />
<polygon points="221.4,230.5 223.3,227.5 224.3,229.0 225.4,227.3 226.4,230.5" fill="#10108c"/>
<polygon points="204.75,277.00 205.5,274.00 206.5,272.50 207.5,271.00 208.5,270.10 209.5,270.00 210.5,270.50 211.5,271.50 212.5,272.50 213.5,274.00 214.5,275.50 215.5,275.80 216.5,275.50 217.5,272.00 218.5,271.50 219.5,272.00 220.5,270.20 221.5,270.00 222.5,270.50 223.5,270.00 224.5,271.00 225.5,272.50 226.5,274.00 227.5,273.80 228.5,273.60 229.5,273.50 230.5,274.00 231.5,274.20 232.5,274.00 233.5,274.50 234.5,275.00 235.5,275.50 236.5,275.50 237.5,275.00 238.5,273.50 239.5,273.00 240.5,272.50 241.5,272.80 242.5,272.50 243.5,271.50 244.5,271.00 245.5,271.20 246.5,272.00 247.5,272.50 248.5,272.70 249.5,272.50 250.5,272.20 251.5,272.50 252.5,273.00 253.5,273.50 254.5,274.50 255.5,275.50 256.3,277.00" fill="#10108c"/>
<line x1="197" y1="280.8" x2="260" y2="280.8" stroke="#b8b8e6" stroke-width="1"/>
<line x1="197" y1="280.8" x2="260" y2="280.8" stroke="#7070c8" stroke-width="1" stroke-dasharray="1,2.5"/>
<text x="230.3" y="288.2" font-size="3.9" text-anchor="middle" font-weight="normal" fill="#222" style="font-family:&quot;Liberation Sans&quot;" >TTTYA</text>
<rect x="204.60" y="290.30" width="45.00" height="2.20" fill="#14148a" />
<path d="M247.6,289.3 h5.8 a2,2 0 0 1 0,4 h-5.8 z" fill="#14148a"/>
<polygon points="255.2,290 256.6,291.4 255.2,292.8" fill="#14148a"/>
<text x="229.2" y="304.2" font-size="8.6" text-anchor="middle" font-weight="bold" fill="#14146a" style="font-family:&quot;Liberation Sans&quot;" stroke="#14146a" stroke-width="0.55">CD24</text>
<text x="0.5" y="320.0" font-size="11.2" text-anchor="start" font-weight="bold" fill="#000" style="font-family:&quot;Liberation Sans&quot;" >D</text>
<text x="18.8" y="320.0" font-size="9.7" text-anchor="start" font-weight="bold" fill="#000" style="font-family:&quot;Liberation Serif&quot;" text-decoration="underline" stroke="#000" stroke-width="0.3">Plasma cells</text>
<text x="48.9" y="345.9" font-size="7.0" text-anchor="end" font-weight="bold" fill="#000" style="font-family:&quot;Liberation Sans&quot;" stroke="#000" stroke-width="0.15">Ctl 1</text>
<text x="48.9" y="355.5" font-size="7.0" text-anchor="end" font-weight="bold" fill="#000" style="font-family:&quot;Liberation Sans&quot;" stroke="#000" stroke-width="0.15">Ctl 2</text>
<text x="48.9" y="365.1" font-size="7.0" text-anchor="end" font-weight="bold" fill="#000" style="font-family:&quot;Liberation Sans&quot;" stroke="#000" stroke-width="0.15">Ctl 3</text>
<text x="48.9" y="374.8" font-size="7.0" text-anchor="end" font-weight="bold" fill="#000" style="font-family:&quot;Liberation Sans&quot;" stroke="#000" stroke-width="0.15">Ctl 5</text>
<text x="48.9" y="384.4" font-size="7.0" text-anchor="end" font-weight="bold" fill="#000" style="font-family:&quot;Liberation Sans&quot;" stroke="#000" stroke-width="0.15">Ctl 6</text>
<text x="48.9" y="394.3" font-size="7.4" text-anchor="end" font-weight="normal" fill="#a01010" style="font-family:&quot;Liberation Sans&quot;" stroke="#a01010" stroke-width="0.3">K108E</text>
<rect x="54.90" y="345.40" width="65.10" height="1.20" fill="#dfdfdf" />
<rect x="54.90" y="355.00" width="65.10" height="1.20" fill="#dfdfdf" />
<rect x="54.90" y="364.80" width="65.10" height="1.20" fill="#dfdfdf" />
<rect x="54.90" y="374.70" width="65.10" height="1.20" fill="#dfdfdf" />
<rect x="54.90" y="384.70" width="65.10" height="1.20" fill="#dfdfdf" />
<rect x="54.90" y="394.40" width="65.10" height="1.20" fill="#ececf2" />
<rect x="132.20" y="345.40" width="59.80" height="1.20" fill="#dfdfdf" />
<rect x="132.20" y="355.00" width="59.80" height="1.20" fill="#dfdfdf" />
<rect x="132.20" y="364.80" width="59.80" height="1.20" fill="#dfdfdf" />
<rect x="132.20" y="374.70" width="59.80" height="1.20" fill="#dfdfdf" />
<rect x="132.20" y="384.70" width="59.80" height="1.20" fill="#dfdfdf" />
<rect x="132.20" y="394.40" width="59.80" height="1.20" fill="#ececf2" />
<rect x="202.80" y="345.40" width="59.20" height="1.20" fill="#dfdfdf" />
<rect x="202.80" y="355.00" width="59.20" height="1.20" fill="#dfdfdf" />
<rect x="202.80" y="364.80" width="59.20" height="1.20" fill="#dfdfdf" />
<rect x="202.80" y="374.70" width="59.20" height="1.20" fill="#dfdfdf" />
<rect x="202.80" y="384.70" width="59.20" height="1.20" fill="#dfdfdf" />
<rect x="202.80" y="394.40" width="59.20" height="1.20" fill="#ececf2" />
<text x="57.2" y="339.0" font-size="5.3" text-anchor="end" font-weight="bold" fill="#000" style="font-family:&quot;Liberation Sans&quot;" stroke="#000" stroke-width="0.3">4</text>
<text x="56.800000000000004" y="345.8" font-size="5.3" text-anchor="end" font-weight="bold" fill="#000" style="font-family:&quot;Liberation Sans&quot;" stroke="#000" stroke-width="0.3">0</text>
<text x="134.5" y="339.0" font-size="5.3" text-anchor="end" font-weight="bold" fill="#000" style="font-family:&quot;Liberation Sans&quot;" stroke="#000" stroke-width="0.3">4</text>
<text x="134.1" y="345.8" font-size="5.3" text-anchor="end" font-weight="bold" fill="#000" style="font-family:&quot;Liberation Sans&quot;" stroke="#000" stroke-width="0.3">0</text>
<text x="208.0" y="339.0" font-size="5.3" text-anchor="end" font-weight="bold" fill="#000" style="font-family:&quot;Liberation Sans&quot;" stroke="#000" stroke-width="0.3">4</text>
<text x="207.6" y="345.8" font-size="5.3" text-anchor="end" font-weight="bold" fill="#000" style="font-family:&quot;Liberation Sans&quot;" stroke="#000" stroke-width="0.3">0</text>
<rect x="95.88" y="345.90" width="1.25" height="0.60" fill="#5252b6" />
<rect x="103.88" y="345.70" width="1.25" height="0.80" fill="#5252b6" />
<rect x="108.00" y="345.70" width="1.50" height="0.80" fill="#5252b6" />
<rect x="112.88" y="345.70" width="1.25" height="0.80" fill="#5252b6" />
<rect x="103.88" y="355.60" width="1.25" height="0.50" fill="#5252b6" />
<rect x="107.88" y="355.60" width="1.25" height="0.50" fill="#5252b6" />
<rect x="112.00" y="355.50" width="7.00" height="0.60" fill="#5252b6" />
<rect x="107.88" y="365.30" width="1.25" height="0.60" fill="#5252b6" />
<rect x="112.00" y="364.90" width="7.00" height="1.00" fill="#5252b6" />
<rect x="102.88" y="375.30" width="1.25" height="0.50" fill="#5252b6" />
<rect x="109.88" y="375.30" width="1.25" height="0.50" fill="#5252b6" />
<rect x="114.88" y="375.30" width="1.25" height="0.50" fill="#5252b6" />
<rect x="98.00" y="385.30" width="2.00" height="0.50" fill="#5252b6" />
<rect x="114.88" y="385.20" width="1.25" height="0.60" fill="#5252b6" />
<rect x="54.83" y="393.50" width="1.25" height="2.00" fill="#10108c" />
<rect x="56.80" y="392.50" width="1.60" height="3.00" fill="#10108c" />
<rect x="60.40" y="392.50" width="1.80" height="3.00" fill="#10108c" />
<rect x="65.80" y="393.50" width="1.40" height="2.00" fill="#10108c" />
<rect x="77.60" y="393.50" width="1.80" height="2.00" fill="#10108c" />
<rect x="81.38" y="394.00" width="1.25" height="1.50" fill="#3434a2" />
<rect x="86.88" y="394.00" width="1.25" height="1.50" fill="#3434a2" />
<rect x="91.88" y="394.50" width="1.25" height="1.00" fill="#5252b6" />
<rect x="98.88" y="393.00" width="1.25" height="2.50" fill="#10108c" />
<rect x="100.17" y="393.50" width="1.25" height="2.00" fill="#10108c" />
<rect x="103.97" y="391.50" width="1.25" height="4.00" fill="#10108c" />
<rect x="105.60" y="388.50" width="1.50" height="7.00" fill="#10108c" />
<rect x="108.38" y="391.50" width="1.25" height="4.00" fill="#10108c" />
<rect x="111.08" y="388.50" width="1.25" height="7.00" fill="#10108c" />
<rect x="112.28" y="388.50" width="1.25" height="7.00" fill="#10108c" />
<rect x="115.97" y="389.50" width="1.25" height="6.00" fill="#10108c" />
<rect x="117.38" y="392.50" width="1.25" height="3.00" fill="#10108c" />
<rect x="54.90" y="398.90" width="63.60" height="1.00" fill="#4444a8" />
<rect x="57.00" y="398.40" width="0.90" height="2.00" fill="#14148a" />
<rect x="60.30" y="398.40" width="0.90" height="2.00" fill="#14148a" />
<rect x="63.50" y="398.40" width="0.90" height="2.00" fill="#14148a" />
<rect x="66.50" y="398.40" width="0.90" height="2.00" fill="#14148a" />
<rect x="69.80" y="398.40" width="0.90" height="2.00" fill="#14148a" />
<rect x="73.00" y="398.40" width="0.90" height="2.00" fill="#14148a" />
<rect x="77.00" y="398.40" width="0.90" height="2.00" fill="#14148a" />
<rect x="80.50" y="398.40" width="0.90" height="2.00" fill="#14148a" />
<rect x="84.00" y="398.40" width="0.90" height="2.00" fill="#14148a" />
<rect x="88.00" y="398.40" width="0.90" height="2.00" fill="#14148a" />
<rect x="91.50" y="398.40" width="0.90" height="2.00" fill="#14148a" />
<rect x="95.00" y="398.40" width="0.90" height="2.00" fill="#14148a" />
<rect x="98.50" y="398.40" width="0.90" height="2.00" fill="#14148a" />
<rect x="102.00" y="398.40" width="0.90" height="2.00" fill="#14148a" />
<rect x="105.50" y="398.40" width="0.90" height="2.00" fill="#14148a" />
<rect x="108.30" y="398.40" width="0.90" height="2.00" fill="#14148a" />
<rect x="111.20" y="398.40" width="0.90" height="2.00" fill="#14148a" />
<rect x="113.40" y="398.40" width="0.90" height="2.00" fill="#14148a" />
<rect x="116.00" y="397.65" width="3.00" height="3.50" fill="#14148a" />
<text x="87" y="410.8" font-size="8.6" text-anchor="middle" font-weight="bold" fill="#14146a" style="font-family:&quot;Liberation Sans&quot;" stroke="#14146a" stroke-width="0.55">NCAPG</text>
<rect x="157.00" y="346.00" width="3.00" height="0.50" fill="#5252b6" />
<rect x="168.00" y="346.00" width="2.00" height="0.50" fill="#5252b6" />
<rect x="176.00" y="346.00" width="3.00" height="0.50" fill="#5252b6" />
<rect x="150.20" y="394.70" width="6.70" height="0.80" fill="#10108c" />
<rect x="132.78" y="393.50" width="1.25" height="2.00" fill="#10108c" />
<rect x="137.67" y="393.50" width="1.25" height="2.00" fill="#10108c" />
<rect x="157.17" y="392.50" width="1.25" height="3.00" fill="#10108c" />
<rect x="158.57" y="390.50" width="1.25" height="5.00" fill="#10108c" />
<rect x="160.17" y="392.50" width="1.25" height="3.00" fill="#10108c" />
<rect x="161.57" y="392.50" width="1.25" height="3.00" fill="#10108c" />
<rect x="162.97" y="389.50" width="1.25" height="6.00" fill="#10108c" />
<rect x="164.38" y="389.50" width="1.25" height="6.00" fill="#10108c" />
<rect x="165.78" y="391.50" width="1.25" height="4.00" fill="#10108c" />
<rect x="167.57" y="390.50" width="1.25" height="5.00" fill="#10108c" />
<rect x="168.97" y="390.50" width="1.25" height="5.00" fill="#10108c" />
<rect x="170.38" y="391.50" width="1.25" height="4.00" fill="#10108c" />
<rect x="171.57" y="389.00" width="1.25" height="6.50" fill="#10108c" />
<rect x="172.97" y="389.00" width="1.25" height="6.50" fill="#10108c" />
<rect x="174.38" y="391.50" width="1.25" height="4.00" fill="#10108c" />
<rect x="175.97" y="393.50" width="1.25" height="2.00" fill="#10108c" />
<rect x="178.47" y="393.50" width="1.25" height="2.00" fill="#10108c" />
<rect x="181.78" y="393.00" width="1.25" height="2.50" fill="#10108c" />
<rect x="183.88" y="392.50" width="1.25" height="3.00" fill="#10108c" />
<polygon points="188.9,395.5 189.4,390.5 190.3,389.3 191.2,390.5 191.7,395.5" fill="#10108c"/>
<rect x="132.20" y="398.10" width="59.30" height="1.00" fill="#4444a8" />
<rect x="132.00" y="397.00" width="2.40" height="3.20" fill="#14148a" />
<rect x="138.00" y="396.90" width="1.00" height="3.40" fill="#14148a" />
<rect x="151.40" y="396.90" width="1.20" height="3.40" fill="#14148a" />
<rect x="157.00" y="396.70" width="1.40" height="3.80" fill="#14148a" />
<rect x="158.95" y="396.70" width="1.40" height="3.80" fill="#14148a" />
<rect x="160.90" y="396.70" width="1.40" height="3.80" fill="#14148a" />
<rect x="162.85" y="396.70" width="1.40" height="3.80" fill="#14148a" />
<rect x="164.80" y="396.70" width="1.40" height="3.80" fill="#14148a" />
<rect x="166.75" y="396.70" width="1.40" height="3.80" fill="#14148a" />
<rect x="168.70" y="396.70" width="1.40" height="3.80" fill="#14148a" />
<rect x="170.65" y="396.70" width="1.40" height="3.80" fill="#14148a" />
<rect x="172.60" y="396.70" width="1.40" height="3.80" fill="#14148a" />
<rect x="174.55" y="396.70" width="1.40" height="3.80" fill="#14148a" />
<rect x="179.60" y="396.90" width="1.20" height="3.40" fill="#14148a" />
<rect x="181.70" y="396.90" width="1.20" height="3.40" fill="#14148a" />
<rect x="184.30" y="396.90" width="1.20" height="3.40" fill="#14148a" />
<rect x="189.00" y="396.50" width="2.60" height="4.20" fill="#14148a" />
<text x="162.4" y="410.8" font-size="8.6" text-anchor="middle" font-weight="bold" fill="#14146a" style="font-family:&quot;Liberation Sans&quot;" stroke="#14146a" stroke-width="0.55">KIF20A</text>
<rect x="212.88" y="346.00" width="1.25" height="0.50" fill="#5252b6" />
<rect x="221.88" y="346.00" width="1.25" height="0.50" fill="#5252b6" />
<rect x="227.88" y="346.00" width="1.25" height="0.50" fill="#5252b6" />
<rect x="235.00" y="346.00" width="4.00" height="0.50" fill="#5252b6" />
<rect x="245.88" y="346.00" width="1.25" height="0.50" fill="#5252b6" />
<rect x="251.88" y="346.00" width="1.25" height="0.50" fill="#5252b6" />
<rect x="257.88" y="346.00" width="1.25" height="0.50" fill="#5252b6" />
<rect x="207.57" y="393.00" width="1.25" height="2.50" fill="#10108c" />
<rect x="210.97" y="391.50" width="1.25" height="4.00" fill="#10108c" />
<rect x="221.97" y="389.00" width="1.25" height="6.50" fill="#10108c" />
<rect x="223.38" y="389.50" width="1.25" height="6.00" fill="#10108c" />
<rect x="225.57" y="392.50" width="1.25" height="3.00" fill="#10108c" />
<rect x="231.97" y="391.50" width="1.25" height="4.00" fill="#10108c" />
<rect x="234.38" y="392.50" width="1.25" height="3.00" fill="#10108c" />
<rect x="235.97" y="391.50" width="1.25" height="4.00" fill="#10108c" />
<rect x="240.97" y="392.00" width="1.25" height="3.50" fill="#10108c" />
<rect x="242.57" y="390.50" width="1.25" height="5.00" fill="#10108c" />
<rect x="246.78" y="390.00" width="1.25" height="5.50" fill="#10108c" />
<rect x="255.17" y="390.00" width="1.25" height="5.50" fill="#10108c" />
<rect x="256.38" y="390.00" width="1.25" height="5.50" fill="#10108c" />
<rect x="258.78" y="389.50" width="1.25" height="6.00" fill="#10108c" />
<rect x="260.38" y="390.50" width="1.25" height="5.00" fill="#10108c" />
<rect x="261.78" y="388.50" width="1.25" height="7.00" fill="#10108c" />
<rect x="262.98" y="388.50" width="1.25" height="7.00" fill="#10108c" />
<rect x="208.00" y="398.10" width="56.20" height="1.00" fill="#4444a8" />
<rect x="208.00" y="397.00" width="1.10" height="3.20" fill="#14148a" />
<rect x="225.00" y="397.00" width="1.10" height="3.20" fill="#14148a" />
<rect x="226.40" y="397.00" width="1.10" height="3.20" fill="#14148a" />
<rect x="232.20" y="397.00" width="1.10" height="3.20" fill="#14148a" />
<rect x="234.60" y="397.00" width="1.10" height="3.20" fill="#14148a" />
<rect x="236.20" y="397.00" width="1.10" height="3.20" fill="#14148a" />
<rect x="241.00" y="397.00" width="1.10" height="3.20" fill="#14148a" />
<rect x="242.60" y="397.00" width="1.10" height="3.20" fill="#14148a" />
<rect x="244.00" y="397.00" width="1.10" height="3.20" fill="#14148a" />
<rect x="247.00" y="397.00" width="1.10" height="3.20" fill="#14148a" />
<rect x="255.20" y="397.00" width="1.10" height="3.20" fill="#14148a" />
<rect x="256.50" y="397.00" width="1.10" height="3.20" fill="#14148a" />
<rect x="260.00" y="397.00" width="1.10" height="3.20" fill="#14148a" />
<rect x="262.00" y="397.00" width="1.10" height="3.20" fill="#14148a" />
<rect x="263.30" y="397.00" width="1.10" height="3.20" fill="#14148a" />
<text x="235.3" y="410.8" font-size="8.6" text-anchor="middle" font-weight="bold" fill="#14146a" style="font-family:&quot;Liberation Sans&quot;" stroke="#14146a" stroke-width="0.55">TPX2</text>
<text x="262.8" y="8.6" font-size="11.2" text-anchor="start" font-weight="bold" fill="#000" style="font-family:&quot;Liberation Sans&quot;" >E</text>
<text x="278.2" y="8.6" font-size="9.7" text-anchor="start" font-weight="bold" fill="#000" style="font-family:&quot;Liberation Serif&quot;" text-decoration="underline" stroke="#000" stroke-width="0.3">APC</text>
<text x="309.0" y="26.1" font-size="7.0" text-anchor="end" font-weight="bold" fill="#000" style="font-family:&quot;Liberation Sans&quot;" stroke="#000" stroke-width="0.15">Ctl 1</text>
<text x="309.0" y="35.7" font-size="7.0" text-anchor="end" font-weight="bold" fill="#000" style="font-family:&quot;Liberation Sans&quot;" stroke="#000" stroke-width="0.15">Ctl 2</text>
<text x="309.0" y="45.3" font-size="7.0" text-anchor="end" font-weight="bold" fill="#000" style="font-family:&quot;Liberation Sans&quot;" stroke="#000" stroke-width="0.15">Ctl 3</text>
<text x="309.0" y="54.9" font-size="7.0" text-anchor="end" font-weight="bold" fill="#000" style="font-family:&quot;Liberation Sans&quot;" stroke="#000" stroke-width="0.15">Ctl 5</text>
<text x="309.0" y="64.5" font-size="7.0" text-anchor="end" font-weight="bold" fill="#000" style="font-family:&quot;Liberation Sans&quot;" stroke="#000" stroke-width="0.15">Ctl 6</text>
<text x="309.0" y="74.1" font-size="7.4" text-anchor="end" font-weight="normal" fill="#a01010" style="font-family:&quot;Liberation Sans&quot;" stroke="#a01010" stroke-width="0.3">K108E</text>
<rect x="318.20" y="25.80" width="64.20" height="1.20" fill="#e0e0e6" />
<rect x="318.20" y="35.80" width="64.20" height="1.20" fill="#e0e0e6" />
<rect x="318.20" y="45.30" width="64.20" height="1.20" fill="#e0e0e6" />
<rect x="318.20" y="55.20" width="64.20" height="1.20" fill="#e0e0e6" />
<rect x="318.20" y="64.70" width="64.20" height="1.20" fill="#e0e0e6" />
<rect x="318.20" y="74.20" width="64.20" height="1.20" fill="#ececf2" />
<rect x="384.50" y="25.80" width="64.50" height="1.20" fill="#e0e0e6" />
<rect x="384.50" y="35.80" width="64.50" height="1.20" fill="#e0e0e6" />
<rect x="384.50" y="45.30" width="64.50" height="1.20" fill="#e0e0e6" />
<rect x="384.50" y="55.20" width="64.50" height="1.20" fill="#e0e0e6" />
<rect x="384.50" y="64.70" width="64.50" height="1.20" fill="#e0e0e6" />
<rect x="384.50" y="74.20" width="64.50" height="1.20" fill="#ececf2" />
<rect x="455.00" y="25.80" width="58.00" height="1.20" fill="#e0e0e6" />
<rect x="455.00" y="35.80" width="58.00" height="1.20" fill="#e0e0e6" />
<rect x="455.00" y="45.30" width="58.00" height="1.20" fill="#e0e0e6" />
<rect x="455.00" y="55.20" width="58.00" height="1.20" fill="#e0e0e6" />
<rect x="455.00" y="64.70" width="58.00" height="1.20" fill="#e0e0e6" />
<rect x="455.00" y="74.20" width="58.00" height="1.20" fill="#ececf2" />
<text x="317.6" y="20.0" font-size="5.3" text-anchor="end" font-weight="bold" fill="#000" style="font-family:&quot;Liberation Sans&quot;" stroke="#000" stroke-width="0.3">5</text>
<text x="317.20000000000005" y="26.5" font-size="5.3" text-anchor="end" font-weight="bold" fill="#000" style="font-family:&quot;Liberation Sans&quot;" stroke="#000" stroke-width="0.3">0</text>
<text x="390.4" y="19.6" font-size="5.3" text-anchor="end" font-weight="bold" fill="#000" style="font-family:&quot;Liberation Sans&quot;" stroke="#000" stroke-width="0.3">10</text>
<text x="390.0" y="26.2" font-size="5.3" text-anchor="end" font-weight="bold" fill="#000" style="font-family:&quot;Liberation Sans&quot;" stroke="#000" stroke-width="0.3">0</text>
<text x="461.0" y="20.4" font-size="5.3" text-anchor="end" font-weight="bold" fill="#000" style="font-family:&quot;Liberation Sans&quot;" stroke="#000" stroke-width="0.3">15</text>
<text x="460.6" y="26.6" font-size="5.3" text-anchor="end" font-weight="bold" fill="#000" style="font-family:&quot;Liberation Sans&quot;" stroke="#000" stroke-width="0.3">0</text>
<rect x="323.18" y="26.10" width="1.25" height="0.80" fill="#5252b6" />
<rect x="349.07" y="26.10" width="1.25" height="0.80" fill="#5252b6" />
<rect x="357.98" y="22.90" width="1.25" height="4.00" fill="#10108c" />
<rect x="359.18" y="24.40" width="1.25" height="2.50" fill="#10108c" />
<rect x="360.38" y="24.90" width="1.25" height="2.00" fill="#10108c" />
<rect x="361.57" y="25.40" width="1.25" height="1.50" fill="#3434a2" />
<rect x="368.88" y="20.90" width="1.25" height="6.00" fill="#10108c" />
<rect x="370.07" y="23.90" width="1.25" height="3.00" fill="#10108c" />
<rect x="371.18" y="25.40" width="1.25" height="1.50" fill="#3434a2" />
<rect x="323.18" y="30.90" width="1.25" height="6.00" fill="#10108c" />
<rect x="324.38" y="35.40" width="1.25" height="1.50" fill="#3434a2" />
<rect x="349.07" y="30.90" width="1.25" height="6.00" fill="#10108c" />
<rect x="350.27" y="35.40" width="1.25" height="1.50" fill="#3434a2" />
<rect x="357.98" y="29.90" width="1.25" height="7.00" fill="#10108c" />
<rect x="359.18" y="29.90" width="1.25" height="7.00" fill="#10108c" />
<rect x="360.38" y="31.90" width="1.25" height="5.00" fill="#10108c" />
<rect x="361.57" y="33.90" width="1.25" height="3.00" fill="#10108c" />
<rect x="368.88" y="30.40" width="1.25" height="6.50" fill="#10108c" />
<rect x="370.07" y="31.90" width="1.25" height="5.00" fill="#10108c" />
<rect x="323.18" y="41.40" width="1.25" height="5.00" fill="#10108c" />
<rect x="324.38" y="45.40" width="1.25" height="1.00" fill="#5252b6" />
<rect x="349.07" y="44.40" width="1.25" height="2.00" fill="#10108c" />
<rect x="357.98" y="39.40" width="1.25" height="7.00" fill="#10108c" />
<rect x="359.18" y="39.40" width="1.25" height="7.00" fill="#10108c" />
<rect x="360.38" y="41.40" width="1.25" height="5.00" fill="#10108c" />
<rect x="361.57" y="44.40" width="1.25" height="2.00" fill="#10108c" />
<rect x="368.88" y="39.40" width="1.25" height="7.00" fill="#10108c" />
<rect x="370.07" y="41.40" width="1.25" height="5.00" fill="#10108c" />
<rect x="323.18" y="53.30" width="1.25" height="3.00" fill="#10108c" />
<rect x="349.07" y="55.30" width="1.25" height="1.00" fill="#5252b6" />
<rect x="350.27" y="55.50" width="1.25" height="0.80" fill="#5252b6" />
<rect x="357.98" y="50.30" width="1.25" height="6.00" fill="#10108c" />
<rect x="359.18" y="52.30" width="1.25" height="4.00" fill="#10108c" />
<rect x="360.38" y="54.30" width="1.25" height="2.00" fill="#10108c" />
<rect x="361.57" y="55.30" width="1.25" height="1.00" fill="#5252b6" />
<rect x="368.88" y="54.30" width="1.25" height="2.00" fill="#10108c" />
<rect x="370.07" y="54.80" width="1.25" height="1.50" fill="#3434a2" />
<rect x="323.18" y="61.80" width="1.25" height="4.00" fill="#10108c" />
<rect x="349.07" y="64.80" width="1.25" height="1.00" fill="#5252b6" />
<rect x="357.98" y="59.80" width="1.25" height="6.00" fill="#10108c" />
<rect x="359.18" y="59.80" width="1.25" height="6.00" fill="#10108c" />
<rect x="360.38" y="61.80" width="1.25" height="4.00" fill="#10108c" />
<rect x="361.57" y="63.80" width="1.25" height="2.00" fill="#10108c" />
<rect x="368.88" y="62.80" width="1.25" height="3.00" fill="#10108c" />
<rect x="370.07" y="63.30" width="1.25" height="2.50" fill="#10108c" />
<rect x="315.60" y="74.50" width="1.80" height="0.80" fill="#5252b6" />
<rect x="323.18" y="74.50" width="1.25" height="0.80" fill="#5252b6" />
<rect x="325.27" y="74.50" width="1.25" height="0.80" fill="#5252b6" />
<rect x="335.57" y="74.50" width="1.25" height="0.80" fill="#5252b6" />
<rect x="340.88" y="74.50" width="1.25" height="0.80" fill="#5252b6" />
<rect x="344.88" y="74.50" width="1.25" height="0.80" fill="#5252b6" />
<rect x="358.27" y="74.50" width="1.25" height="0.80" fill="#5252b6" />
<rect x="361.27" y="74.50" width="1.25" height="0.80" fill="#5252b6" />
<rect x="369.88" y="74.50" width="1.25" height="0.80" fill="#5252b6" />
<rect x="323.30" y="77.80" width="48.20" height="1.00" fill="#4444a8" />
<rect x="323.30" y="76.80" width="1.00" height="3.00" fill="#14148a" />
<rect x="349.20" y="76.80" width="1.00" height="3.00" fill="#14148a" />
<rect x="358.00" y="76.80" width="0.90" height="3.00" fill="#14148a" />
<rect x="359.40" y="76.80" width="0.90" height="3.00" fill="#14148a" />
<rect x="360.80" y="76.80" width="0.90" height="3.00" fill="#14148a" />
<rect x="362.00" y="76.80" width="0.90" height="3.00" fill="#14148a" />
<rect x="369.00" y="76.55" width="2.50" height="3.50" fill="#14148a" />
<text x="347.0" y="92.7" font-size="8.6" text-anchor="middle" font-weight="bold" fill="#14146a" style="font-family:&quot;Liberation Sans&quot;" stroke="#14146a" stroke-width="0.55">CD86<tspan font-size="6.4" dy="-1.4">*</tspan></text>
<rect x="398.00" y="21.90" width="1.40" height="5.00" fill="#10108c" />
<polygon points="408.6,26.9 408.6,19.4 410.2,19.4 411.2,20.75 412.0,20.15 413.4,19.4 413.4,26.9" fill="#10108c"/>
<rect x="414.40" y="19.40" width="1.30" height="7.50" fill="#10108c" />
<rect x="428.40" y="19.40" width="1.60" height="7.50" fill="#10108c" />
<rect x="433.20" y="19.40" width="1.40" height="7.50" fill="#10108c" />
<path d="M434.6,26.9 v-6.38 q1.6,-2.25 3.3,0 v6.38 z" fill="#10108c"/>
<rect x="398.00" y="29.40" width="1.40" height="7.50" fill="#10108c" />
<rect x="399.40" y="35.70" width="7.60" height="1.20" fill="#10108c" />
<polygon points="408.6,36.9 408.6,29.4 410.2,29.4 411.2,30.75 412.0,30.15 413.4,29.4 413.4,36.9" fill="#10108c"/>
<rect x="414.40" y="29.40" width="1.30" height="7.50" fill="#10108c" />
<rect x="421.70" y="35.70" width="6.10" height="1.20" fill="#10108c" />
<rect x="428.40" y="29.40" width="1.60" height="7.50" fill="#10108c" />
<rect x="433.20" y="29.40" width="1.40" height="7.50" fill="#10108c" />
<path d="M434.6,36.9 v-6.38 q1.6,-2.25 3.3,0 v6.38 z" fill="#10108c"/>
<rect x="398.00" y="44.40" width="1.40" height="2.00" fill="#10108c" />
<rect x="399.40" y="46.00" width="7.60" height="0.40" fill="#10108c" />
<polygon points="408.6,46.4 408.6,39.4 410.2,39.4 411.2,40.66 412.0,40.1 413.4,39.4 413.4,46.4" fill="#10108c"/>
<rect x="414.40" y="39.40" width="1.30" height="7.00" fill="#10108c" />
<rect x="421.70" y="45.90" width="6.10" height="0.50" fill="#10108c" />
<rect x="428.40" y="39.40" width="1.60" height="7.00" fill="#10108c" />
<rect x="433.20" y="38.90" width="1.40" height="7.50" fill="#10108c" />
<path d="M434.6,46.4 v-6.38 q1.6,-2.25 3.3,0 v6.38 z" fill="#10108c"/>
<rect x="398.00" y="52.30" width="1.40" height="4.00" fill="#10108c" />
<rect x="399.40" y="55.30" width="7.60" height="1.00" fill="#10108c" />
<polygon points="408.6,56.3 408.6,48.8 410.2,48.8 411.2,50.15 412.0,49.55 413.4,48.8 413.4,56.3" fill="#10108c"/>
<rect x="414.40" y="48.80" width="1.30" height="7.50" fill="#10108c" />
<rect x="421.70" y="55.30" width="6.10" height="1.00" fill="#10108c" />
<rect x="428.40" y="48.80" width="1.60" height="7.50" fill="#10108c" />
<rect x="433.20" y="48.80" width="1.40" height="7.50" fill="#10108c" />
<path d="M434.6,56.3 v-6.38 q1.6,-2.25 3.3,0 v6.38 z" fill="#10108c"/>
<rect x="398.00" y="59.80" width="1.40" height="6.00" fill="#10108c" />
<rect x="399.40" y="64.80" width="7.60" height="1.00" fill="#10108c" />
<polygon points="408.6,65.8 408.6,58.3 410.2,58.3 411.2,59.65 412.0,59.05 413.4,58.3 413.4,65.8" fill="#10108c"/>
<rect x="414.40" y="58.30" width="1.30" height="7.50" fill="#10108c" />
<rect x="421.70" y="64.80" width="6.10" height="1.00" fill="#10108c" />
<rect x="428.40" y="58.30" width="1.60" height="7.50" fill="#10108c" />
<rect x="433.20" y="58.30" width="1.40" height="7.50" fill="#10108c" />
<path d="M434.6,65.8 v-6.38 q1.6,-2.25 3.3,0 v6.38 z" fill="#10108c"/>
<rect x="398.20" y="77.80" width="38.80" height="1.00" fill="#4444a8" />
<rect x="398.00" y="76.80" width="1.20" height="3.00" fill="#14148a" />
<rect x="409.80" y="76.80" width="1.00" height="3.00" fill="#14148a" />
<rect x="411.80" y="76.80" width="1.00" height="3.00" fill="#14148a" />
<rect x="414.30" y="76.80" width="1.00" height="3.00" fill="#14148a" />
<rect x="428.40" y="76.80" width="1.30" height="3.00" fill="#14148a" />
<rect x="433.20" y="76.80" width="2.20" height="3.00" fill="#14148a" />
<polygon points="436.2,76.6 438.4,78.3 436.2,80" fill="#14148a"/>
<text x="416.8" y="93.0" font-size="8.6" text-anchor="middle" font-weight="bold" fill="#14146a" style="font-family:&quot;Liberation Sans&quot;" stroke="#14146a" stroke-width="0.55">IFI30</text>
<rect x="465.10" y="19.90" width="1.00" height="7.00" fill="#2a2a9c" />
<rect x="466.60" y="20.40" width="1.00" height="6.50" fill="#2a2a9c" />
<rect x="468.20" y="19.90" width="1.00" height="7.00" fill="#2a2a9c" />
<rect x="469.90" y="19.90" width="1.00" height="7.00" fill="#2a2a9c" />
<rect x="471.60" y="20.90" width="1.00" height="6.00" fill="#2a2a9c" />
<rect x="473.30" y="19.90" width="1.00" height="7.00" fill="#2a2a9c" />
<rect x="475.30" y="22.90" width="1.00" height="4.00" fill="#2a2a9c" />
<rect x="477.90" y="20.90" width="1.00" height="6.00" fill="#2a2a9c" />
<rect x="480.10" y="21.90" width="1.00" height="5.00" fill="#2a2a9c" />
<rect x="481.40" y="21.90" width="1.00" height="5.00" fill="#2a2a9c" />
<rect x="496.70" y="20.90" width="1.00" height="6.00" fill="#2a2a9c" />
<rect x="499.40" y="25.40" width="1.00" height="1.50" fill="#3434a2" />
<rect x="510.10" y="25.40" width="1.00" height="1.50" fill="#3434a2" />
<rect x="465.10" y="29.90" width="1.00" height="7.00" fill="#2a2a9c" />
<rect x="466.60" y="30.90" width="1.00" height="6.00" fill="#2a2a9c" />
<rect x="468.20" y="30.40" width="1.00" height="6.50" fill="#2a2a9c" />
<rect x="469.90" y="31.40" width="1.00" height="5.50" fill="#2a2a9c" />
<rect x="471.60" y="29.90" width="1.00" height="7.00" fill="#2a2a9c" />
<rect x="473.30" y="30.90" width="1.00" height="6.00" fill="#2a2a9c" />
<rect x="475.30" y="29.90" width="1.00" height="7.00" fill="#2a2a9c" />
<rect x="477.90" y="29.90" width="1.00" height="7.00" fill="#2a2a9c" />
<rect x="480.10" y="29.90" width="1.00" height="7.00" fill="#2a2a9c" />
<rect x="481.40" y="29.90" width="1.00" height="7.00" fill="#2a2a9c" />
<rect x="496.70" y="31.90" width="1.00" height="5.00" fill="#2a2a9c" />
<rect x="499.40" y="35.90" width="1.00" height="1.00" fill="#5252b6" />
<rect x="503.40" y="35.70" width="2.00" height="1.20" fill="#3434a2" />
<rect x="505.50" y="35.40" width="2.00" height="1.50" fill="#3434a2" />
<rect x="507.50" y="35.40" width="2.80" height="1.50" fill="#3434a2" />
<rect x="465.10" y="42.40" width="1.00" height="4.00" fill="#2a2a9c" />
<rect x="466.60" y="42.90" width="1.00" height="3.50" fill="#2a2a9c" />
<rect x="468.20" y="43.40" width="1.00" height="3.00" fill="#2a2a9c" />
<rect x="469.90" y="42.90" width="1.00" height="3.50" fill="#2a2a9c" />
<rect x="471.60" y="44.40" width="1.00" height="2.00" fill="#2a2a9c" />
<rect x="473.30" y="43.40" width="1.00" height="3.00" fill="#2a2a9c" />
<rect x="475.30" y="44.40" width="1.00" height="2.00" fill="#2a2a9c" />
<rect x="477.90" y="44.40" width="1.00" height="2.00" fill="#2a2a9c" />
<rect x="480.10" y="44.90" width="1.00" height="1.50" fill="#3434a2" />
<rect x="481.40" y="45.40" width="1.00" height="1.00" fill="#5252b6" />
<rect x="496.70" y="45.40" width="1.00" height="1.00" fill="#5252b6" />
<rect x="465.10" y="49.30" width="1.00" height="7.00" fill="#2a2a9c" />
<rect x="466.60" y="49.80" width="1.00" height="6.50" fill="#2a2a9c" />
<rect x="468.20" y="50.30" width="1.00" height="6.00" fill="#2a2a9c" />
<rect x="469.90" y="50.30" width="1.00" height="6.00" fill="#2a2a9c" />
<rect x="471.60" y="51.30" width="1.00" height="5.00" fill="#2a2a9c" />
<rect x="473.30" y="49.80" width="1.00" height="6.50" fill="#2a2a9c" />
<rect x="475.30" y="51.30" width="1.00" height="5.00" fill="#2a2a9c" />
<rect x="477.90" y="50.30" width="1.00" height="6.00" fill="#2a2a9c" />
<rect x="480.10" y="50.30" width="1.00" height="6.00" fill="#2a2a9c" />
<rect x="481.40" y="50.30" width="1.00" height="6.00" fill="#2a2a9c" />
<rect x="496.70" y="51.30" width="1.00" height="5.00" fill="#2a2a9c" />
<rect x="499.40" y="55.30" width="1.00" height="1.00" fill="#5252b6" />
<rect x="503.40" y="55.50" width="2.00" height="0.80" fill="#5252b6" />
<rect x="505.50" y="55.30" width="2.00" height="1.00" fill="#5252b6" />
<rect x="507.50" y="55.30" width="2.80" height="1.00" fill="#5252b6" />
<rect x="465.10" y="58.30" width="1.00" height="7.50" fill="#2a2a9c" />
<rect x="466.60" y="59.80" width="1.00" height="6.00" fill="#2a2a9c" />
<rect x="468.20" y="60.80" width="1.00" height="5.00" fill="#2a2a9c" />
<rect x="469.90" y="61.80" width="1.00" height="4.00" fill="#2a2a9c" />
<rect x="471.60" y="60.80" width="1.00" height="5.00" fill="#2a2a9c" />
<rect x="473.30" y="61.30" width="1.00" height="4.50" fill="#2a2a9c" />
<rect x="475.30" y="61.80" width="1.00" height="4.00" fill="#2a2a9c" />
<rect x="477.90" y="59.80" width="1.00" height="6.00" fill="#2a2a9c" />
<rect x="480.10" y="60.80" width="1.00" height="5.00" fill="#2a2a9c" />
<rect x="481.40" y="59.80" width="1.00" height="6.00" fill="#2a2a9c" />
<rect x="496.70" y="60.80" width="1.00" height="5.00" fill="#2a2a9c" />
<rect x="499.40" y="64.80" width="1.00" height="1.00" fill="#5252b6" />
<rect x="503.40" y="64.84" width="2.00" height="0.96" fill="#5252b6" />
<rect x="505.50" y="64.60" width="2.00" height="1.20" fill="#3434a2" />
<rect x="507.50" y="64.60" width="2.80" height="1.20" fill="#3434a2" />
<rect x="464.88" y="74.50" width="1.25" height="0.80" fill="#5252b6" />
<rect x="466.88" y="74.50" width="1.25" height="0.80" fill="#5252b6" />
<rect x="468.88" y="74.50" width="1.25" height="0.80" fill="#5252b6" />
<rect x="470.88" y="74.50" width="1.25" height="0.80" fill="#5252b6" />
<rect x="473.38" y="74.50" width="1.25" height="0.80" fill="#5252b6" />
<rect x="475.88" y="74.70" width="1.25" height="0.60" fill="#5252b6" />
<rect x="479.88" y="74.70" width="1.25" height="0.60" fill="#5252b6" />
<rect x="487.88" y="74.70" width="1.25" height="0.60" fill="#5252b6" />
<rect x="496.48" y="74.70" width="1.25" height="0.60" fill="#5252b6" />
<rect x="509.88" y="74.70" width="1.25" height="0.60" fill="#5252b6" />
<rect x="465.00" y="78.10" width="45.80" height="1.00" fill="#4444a8" />
<rect x="465.00" y="77.00" width="1.10" height="3.20" fill="#14148a" />
<rect x="466.50" y="77.00" width="1.10" height="3.20" fill="#14148a" />
<rect x="468.10" y="77.00" width="1.10" height="3.20" fill="#14148a" />
<rect x="469.80" y="77.00" width="1.10" height="3.20" fill="#14148a" />
<rect x="471.50" y="77.00" width="1.10" height="3.20" fill="#14148a" />
<rect x="473.20" y="77.00" width="1.10" height="3.20" fill="#14148a" />
<rect x="475.20" y="77.00" width="1.10" height="3.20" fill="#14148a" />
<rect x="477.80" y="77.00" width="1.10" height="3.20" fill="#14148a" />
<rect x="480.00" y="77.00" width="1.10" height="3.20" fill="#14148a" />
<rect x="481.30" y="77.00" width="1.10" height="3.20" fill="#14148a" />
<rect x="488.00" y="77.00" width="1.10" height="3.20" fill="#14148a" />
<rect x="496.60" y="77.00" width="1.10" height="3.20" fill="#14148a" />
<rect x="499.30" y="77.00" width="1.10" height="3.20" fill="#14148a" />
<rect x="510.00" y="77.00" width="1.10" height="3.20" fill="#14148a" />
<text x="486.5" y="93.0" font-size="8.6" text-anchor="middle" font-weight="bold" fill="#14146a" style="font-family:&quot;Liberation Sans&quot;" stroke="#14146a" stroke-width="0.55">ANXA2<tspan font-size="6.4" dy="-1.4">*</tspan></text>
<text x="309.0" y="131.6" font-size="7.0" text-anchor="end" font-weight="bold" fill="#000" style="font-family:&quot;Liberation Sans&quot;" stroke="#000" stroke-width="0.15">Ctl 1</text>
<text x="309.0" y="141.1" font-size="7.0" text-anchor="end" font-weight="bold" fill="#000" style="font-family:&quot;Liberation Sans&quot;" stroke="#000" stroke-width="0.15">Ctl 2</text>
<text x="309.0" y="150.65" font-size="7.0" text-anchor="end" font-weight="bold" fill="#000" style="font-family:&quot;Liberation Sans&quot;" stroke="#000" stroke-width="0.15">Ctl 3</text>
<text x="309.0" y="160.2" font-size="7.0" text-anchor="end" font-weight="bold" fill="#000" style="font-family:&quot;Liberation Sans&quot;" stroke="#000" stroke-width="0.15">Ctl 5</text>
<text x="309.0" y="169.7" font-size="7.0" text-anchor="end" font-weight="bold" fill="#000" style="font-family:&quot;Liberation Sans&quot;" stroke="#000" stroke-width="0.15">Ctl 6</text>
<text x="309.0" y="179.3" font-size="7.4" text-anchor="end" font-weight="normal" fill="#a01010" style="font-family:&quot;Liberation Sans&quot;" stroke="#a01010" stroke-width="0.3">K108E</text>
<rect x="318.20" y="131.70" width="64.20" height="1.20" fill="#e0e0e6" />
<rect x="318.20" y="141.20" width="64.20" height="1.20" fill="#e0e0e6" />
<rect x="318.20" y="151.00" width="64.20" height="1.20" fill="#e0e0e6" />
<rect x="318.20" y="160.90" width="64.20" height="1.20" fill="#e0e0e6" />
<rect x="318.20" y="170.40" width="64.20" height="1.20" fill="#e0e0e6" />
<rect x="318.20" y="179.90" width="64.20" height="1.20" fill="#ececf2" />
<rect x="384.50" y="131.70" width="64.50" height="1.20" fill="#e0e0e6" />
<rect x="384.50" y="141.20" width="64.50" height="1.20" fill="#e0e0e6" />
<rect x="384.50" y="151.00" width="64.50" height="1.20" fill="#e0e0e6" />
<rect x="384.50" y="160.90" width="64.50" height="1.20" fill="#e0e0e6" />
<rect x="384.50" y="170.40" width="64.50" height="1.20" fill="#e0e0e6" />
<rect x="384.50" y="179.90" width="64.50" height="1.20" fill="#ececf2" />
<rect x="455.00" y="131.70" width="58.00" height="1.20" fill="#e0e0e6" />
<rect x="455.00" y="141.20" width="58.00" height="1.20" fill="#e0e0e6" />
<rect x="455.00" y="151.00" width="58.00" height="1.20" fill="#e0e0e6" />
<rect x="455.00" y="160.90" width="58.00" height="1.20" fill="#e0e0e6" />
<rect x="455.00" y="170.40" width="58.00" height="1.20" fill="#e0e0e6" />
<rect x="455.00" y="179.90" width="58.00" height="1.20" fill="#ececf2" />
<text x="321.0" y="125.6" font-size="5.3" text-anchor="end" font-weight="bold" fill="#000" style="font-family:&quot;Liberation Sans&quot;" stroke="#000" stroke-width="0.3">10</text>
<text x="320.6" y="132.0" font-size="5.3" text-anchor="end" font-weight="bold" fill="#000" style="font-family:&quot;Liberation Sans&quot;" stroke="#000" stroke-width="0.3">0</text>
<text x="390.6" y="125.6" font-size="5.3" text-anchor="end" font-weight="bold" fill="#000" style="font-family:&quot;Liberation Sans&quot;" stroke="#000" stroke-width="0.3">10</text>
<text x="390.20000000000005" y="132.0" font-size="5.3" text-anchor="end" font-weight="bold" fill="#000" style="font-family:&quot;Liberation Sans&quot;" stroke="#000" stroke-width="0.3">0</text>
<text x="460.6" y="125.6" font-size="5.3" text-anchor="end" font-weight="bold" fill="#000" style="font-family:&quot;Liberation Sans&quot;" stroke="#000" stroke-width="0.3">20</text>
<text x="460.20000000000005" y="132.0" font-size="5.3" text-anchor="end" font-weight="bold" fill="#000" style="font-family:&quot;Liberation Sans&quot;" stroke="#000" stroke-width="0.3">0</text>
<rect x="321.20" y="132.00" width="1.05" height="0.80" fill="#5252b6" />
<rect x="328.50" y="131.30" width="1.05" height="1.50" fill="#3434a2" />
<rect x="344.30" y="130.80" width="1.05" height="2.00" fill="#22229a" />
<rect x="346.90" y="130.80" width="1.05" height="2.00" fill="#22229a" />
<rect x="348.60" y="129.80" width="1.05" height="3.00" fill="#22229a" />
<rect x="351.10" y="127.80" width="1.05" height="5.00" fill="#22229a" />
<rect x="352.80" y="127.80" width="1.05" height="5.00" fill="#22229a" />
<rect x="357.50" y="128.80" width="1.05" height="4.00" fill="#22229a" />
<rect x="358.90" y="127.80" width="1.05" height="5.00" fill="#22229a" />
<rect x="360.30" y="129.80" width="1.05" height="3.00" fill="#22229a" />
<rect x="361.70" y="128.30" width="1.05" height="4.50" fill="#22229a" />
<rect x="363.10" y="127.80" width="1.05" height="5.00" fill="#22229a" />
<rect x="366.70" y="127.80" width="1.05" height="5.00" fill="#22229a" />
<rect x="369.00" y="127.80" width="1.05" height="5.00" fill="#22229a" />
<rect x="371.60" y="126.80" width="1.05" height="6.00" fill="#22229a" />
<rect x="373.00" y="125.80" width="1.05" height="7.00" fill="#22229a" />
<rect x="374.20" y="126.80" width="1.05" height="6.00" fill="#22229a" />
<rect x="321.20" y="140.80" width="1.05" height="1.50" fill="#3434a2" />
<rect x="328.50" y="135.80" width="1.05" height="6.50" fill="#22229a" />
<rect x="344.30" y="135.80" width="1.05" height="6.50" fill="#22229a" />
<rect x="346.90" y="135.80" width="1.05" height="6.50" fill="#22229a" />
<rect x="348.60" y="135.80" width="1.05" height="6.50" fill="#22229a" />
<rect x="351.10" y="135.80" width="1.05" height="6.50" fill="#22229a" />
<rect x="352.80" y="135.80" width="1.05" height="6.50" fill="#22229a" />
<rect x="357.50" y="135.80" width="1.05" height="6.50" fill="#22229a" />
<rect x="358.90" y="135.80" width="1.05" height="6.50" fill="#22229a" />
<rect x="360.30" y="135.80" width="1.05" height="6.50" fill="#22229a" />
<rect x="361.70" y="135.80" width="1.05" height="6.50" fill="#22229a" />
<rect x="363.10" y="135.80" width="1.05" height="6.50" fill="#22229a" />
<rect x="366.70" y="135.80" width="1.05" height="6.50" fill="#22229a" />
<rect x="369.00" y="135.80" width="1.05" height="6.50" fill="#22229a" />
<rect x="371.60" y="135.80" width="1.05" height="6.50" fill="#22229a" />
<rect x="373.00" y="135.80" width="1.05" height="6.50" fill="#22229a" />
<rect x="374.20" y="135.80" width="1.05" height="6.50" fill="#22229a" />
<rect x="321.20" y="151.60" width="1.05" height="0.50" fill="#5252b6" />
<rect x="344.30" y="151.10" width="1.05" height="1.00" fill="#5252b6" />
<rect x="346.90" y="150.60" width="1.05" height="1.50" fill="#3434a2" />
<rect x="348.60" y="150.10" width="1.05" height="2.00" fill="#22229a" />
<rect x="351.10" y="149.10" width="1.05" height="3.00" fill="#22229a" />
<rect x="352.80" y="149.10" width="1.05" height="3.00" fill="#22229a" />
<rect x="357.50" y="149.10" width="1.05" height="3.00" fill="#22229a" />
<rect x="358.90" y="148.60" width="1.05" height="3.50" fill="#22229a" />
<rect x="360.30" y="149.10" width="1.05" height="3.00" fill="#22229a" />
<rect x="361.70" y="148.60" width="1.05" height="3.50" fill="#22229a" />
<rect x="363.10" y="148.60" width="1.05" height="3.50" fill="#22229a" />
<rect x="366.70" y="149.10" width="1.05" height="3.00" fill="#22229a" />
<rect x="369.00" y="149.10" width="1.05" height="3.00" fill="#22229a" />
<rect x="371.60" y="148.10" width="1.05" height="4.00" fill="#22229a" />
<rect x="373.00" y="145.10" width="1.05" height="7.00" fill="#22229a" />
<rect x="374.20" y="148.10" width="1.05" height="4.00" fill="#22229a" />
<rect x="321.20" y="161.40" width="1.05" height="0.60" fill="#5252b6" />
<rect x="328.50" y="161.40" width="1.05" height="0.60" fill="#5252b6" />
<rect x="344.30" y="160.50" width="1.05" height="1.50" fill="#3434a2" />
<rect x="346.90" y="158.00" width="1.05" height="4.00" fill="#22229a" />
<rect x="348.60" y="157.00" width="1.05" height="5.00" fill="#22229a" />
<rect x="351.10" y="156.00" width="1.05" height="6.00" fill="#22229a" />
<rect x="352.80" y="156.00" width="1.05" height="6.00" fill="#22229a" />
<rect x="357.50" y="157.00" width="1.05" height="5.00" fill="#22229a" />
<rect x="358.90" y="156.00" width="1.05" height="6.00" fill="#22229a" />
<rect x="360.30" y="158.00" width="1.05" height="4.00" fill="#22229a" />
<rect x="361.70" y="155.50" width="1.05" height="6.50" fill="#22229a" />
<rect x="363.10" y="156.00" width="1.05" height="6.00" fill="#22229a" />
<rect x="366.70" y="156.00" width="1.05" height="6.00" fill="#22229a" />
<rect x="369.00" y="156.00" width="1.05" height="6.00" fill="#22229a" />
<rect x="371.60" y="156.00" width="1.05" height="6.00" fill="#22229a" />
<rect x="373.00" y="156.00" width="1.05" height="6.00" fill="#22229a" />
<rect x="374.20" y="156.00" width="1.05" height="6.00" fill="#22229a" />
<rect x="321.20" y="171.00" width="1.05" height="0.50" fill="#5252b6" />
<rect x="328.50" y="170.90" width="1.05" height="0.60" fill="#5252b6" />
<rect x="344.30" y="170.00" width="1.05" height="1.50" fill="#3434a2" />
<rect x="346.90" y="167.00" width="1.05" height="4.50" fill="#22229a" />
<rect x="348.60" y="166.50" width="1.05" height="5.00" fill="#22229a" />
<rect x="351.10" y="165.00" width="1.05" height="6.50" fill="#22229a" />
<rect x="352.80" y="165.00" width="1.05" height="6.50" fill="#22229a" />
<rect x="357.50" y="166.00" width="1.05" height="5.50" fill="#22229a" />
<rect x="358.90" y="165.00" width="1.05" height="6.50" fill="#22229a" />
<rect x="360.30" y="166.50" width="1.05" height="5.00" fill="#22229a" />
<rect x="361.70" y="165.00" width="1.05" height="6.50" fill="#22229a" />
<rect x="363.10" y="165.00" width="1.05" height="6.50" fill="#22229a" />
<rect x="366.70" y="165.00" width="1.05" height="6.50" fill="#22229a" />
<rect x="369.00" y="165.00" width="1.05" height="6.50" fill="#22229a" />
<rect x="371.60" y="165.00" width="1.05" height="6.50" fill="#22229a" />
<rect x="373.00" y="165.00" width="1.05" height="6.50" fill="#22229a" />
<rect x="374.20" y="165.00" width="1.05" height="6.50" fill="#22229a" />
<rect x="321.10" y="183.40" width="53.70" height="1.00" fill="#4444a8" />
<rect x="321.10" y="182.30" width="1.00" height="3.20" fill="#14148a" />
<rect x="328.40" y="182.30" width="1.00" height="3.20" fill="#14148a" />
<rect x="344.20" y="182.30" width="1.00" height="3.20" fill="#14148a" />
<rect x="346.80" y="182.30" width="1.00" height="3.20" fill="#14148a" />
<rect x="348.50" y="182.30" width="1.00" height="3.20" fill="#14148a" />
<rect x="351.00" y="182.30" width="1.00" height="3.20" fill="#14148a" />
<rect x="352.70" y="182.30" width="1.00" height="3.20" fill="#14148a" />
<rect x="357.40" y="182.30" width="1.00" height="3.20" fill="#14148a" />
<rect x="358.80" y="182.30" width="1.00" height="3.20" fill="#14148a" />
<rect x="360.20" y="182.30" width="1.00" height="3.20" fill="#14148a" />
<rect x="361.60" y="182.30" width="1.00" height="3.20" fill="#14148a" />
<rect x="363.00" y="182.30" width="1.00" height="3.20" fill="#14148a" />
<rect x="366.60" y="182.30" width="1.00" height="3.20" fill="#14148a" />
<rect x="368.90" y="182.30" width="1.00" height="3.20" fill="#14148a" />
<rect x="371.50" y="182.30" width="1.00" height="3.20" fill="#14148a" />
<rect x="372.90" y="182.30" width="1.00" height="3.20" fill="#14148a" />
<rect x="373.80" y="182.10" width="1.40" height="3.60" fill="#14148a" />
<text x="348.1" y="198.0" font-size="8.6" text-anchor="middle" font-weight="bold" fill="#14146a" style="font-family:&quot;Liberation Sans&quot;" stroke="#14146a" stroke-width="0.55">TGFBI<tspan font-size="6.4" dy="-1.4">*</tspan></text>
<path d="M397.6,132.8 v-4.60 q0,-1.4 1.4,-1.4 h2.2 q1.4,0 1.4,1.4 v2.70 h1.2 V132.8 z" fill="#10108c"/>
<rect x="407.00" y="131.30" width="6.80" height="1.50" fill="#10108c" />
<rect x="405.93" y="128.80" width="1.25" height="4.00" fill="#10108c" />
<rect x="413.73" y="128.80" width="1.25" height="4.00" fill="#10108c" />
<rect x="416.82" y="128.80" width="1.25" height="4.00" fill="#10108c" />
<rect x="418.43" y="129.30" width="1.25" height="3.50" fill="#10108c" />
<rect x="431.38" y="131.80" width="1.25" height="1.00" fill="#5252b6" />
<rect x="434.77" y="131.80" width="1.25" height="1.00" fill="#5252b6" />
<rect x="437.38" y="131.80" width="1.25" height="1.00" fill="#5252b6" />
<path d="M397.6,142.3 v-6.10 q0,-1.4 1.4,-1.4 h2.2 q1.4,0 1.4,1.4 v3.38 h1.2 V142.3 z" fill="#10108c"/>
<rect x="407.00" y="140.80" width="6.80" height="1.50" fill="#10108c" />
<rect x="405.93" y="135.30" width="1.25" height="7.00" fill="#10108c" />
<rect x="413.73" y="135.30" width="1.25" height="7.00" fill="#10108c" />
<rect x="416.82" y="135.30" width="1.25" height="7.00" fill="#10108c" />
<rect x="418.43" y="135.30" width="1.25" height="7.00" fill="#10108c" />
<rect x="431.38" y="137.30" width="1.25" height="5.00" fill="#10108c" />
<rect x="434.77" y="137.30" width="1.25" height="5.00" fill="#10108c" />
<rect x="437.38" y="137.30" width="1.25" height="5.00" fill="#10108c" />
<path d="M397.6,152.1 v-4.60 q0,-1.4 1.4,-1.4 h2.2 q1.4,0 1.4,1.4 v2.70 h1.2 V152.1 z" fill="#10108c"/>
<rect x="407.00" y="151.10" width="6.80" height="1.00" fill="#10108c" />
<rect x="405.93" y="149.10" width="1.25" height="3.00" fill="#10108c" />
<rect x="413.73" y="149.10" width="1.25" height="3.00" fill="#10108c" />
<rect x="416.82" y="149.10" width="1.25" height="3.00" fill="#10108c" />
<rect x="418.43" y="149.10" width="1.25" height="3.00" fill="#10108c" />
<rect x="431.38" y="151.10" width="1.25" height="1.00" fill="#5252b6" />
<rect x="434.77" y="151.10" width="1.25" height="1.00" fill="#5252b6" />
<rect x="437.38" y="151.10" width="1.25" height="1.00" fill="#5252b6" />
<path d="M397.6,162.0 v-6.10 q0,-1.4 1.4,-1.4 h2.2 q1.4,0 1.4,1.4 v3.38 h1.2 V162.0 z" fill="#10108c"/>
<rect x="407.00" y="160.50" width="6.80" height="1.50" fill="#10108c" />
<rect x="405.93" y="156.00" width="1.25" height="6.00" fill="#10108c" />
<rect x="413.73" y="157.00" width="1.25" height="5.00" fill="#10108c" />
<rect x="416.82" y="157.00" width="1.25" height="5.00" fill="#10108c" />
<rect x="418.43" y="157.00" width="1.25" height="5.00" fill="#10108c" />
<rect x="431.38" y="159.50" width="1.25" height="2.50" fill="#10108c" />
<rect x="434.77" y="159.00" width="1.25" height="3.00" fill="#10108c" />
<rect x="437.38" y="159.50" width="1.25" height="2.50" fill="#10108c" />
<path d="M397.6,171.5 v-6.10 q0,-1.4 1.4,-1.4 h2.2 q1.4,0 1.4,1.4 v3.38 h1.2 V171.5 z" fill="#10108c"/>
<rect x="407.00" y="170.00" width="6.80" height="1.50" fill="#10108c" />
<rect x="405.93" y="164.50" width="1.25" height="7.00" fill="#10108c" />
<rect x="413.73" y="164.50" width="1.25" height="7.00" fill="#10108c" />
<rect x="416.82" y="164.50" width="1.25" height="7.00" fill="#10108c" />
<rect x="418.43" y="164.50" width="1.25" height="7.00" fill="#10108c" />
<rect x="431.38" y="166.50" width="1.25" height="5.00" fill="#10108c" />
<rect x="434.77" y="166.50" width="1.25" height="5.00" fill="#10108c" />
<rect x="437.38" y="166.50" width="1.25" height="5.00" fill="#10108c" />
<rect x="398.00" y="180.20" width="3.50" height="0.80" fill="#5252b6" />
<rect x="405.88" y="180.40" width="1.25" height="0.60" fill="#5252b6" />
<rect x="410.38" y="180.40" width="1.25" height="0.60" fill="#5252b6" />
<rect x="413.88" y="180.40" width="1.25" height="0.60" fill="#5252b6" />
<rect x="397.60" y="183.30" width="41.00" height="1.00" fill="#4444a8" />
<rect x="399.60" y="182.05" width="2.20" height="3.50" fill="#14148a" />
<rect x="406.00" y="182.05" width="1.10" height="3.50" fill="#14148a" />
<rect x="413.80" y="182.05" width="1.40" height="3.50" fill="#14148a" />
<rect x="416.90" y="182.05" width="1.10" height="3.50" fill="#14148a" />
<rect x="418.50" y="182.05" width="1.10" height="3.50" fill="#14148a" />
<rect x="431.50" y="182.30" width="1.00" height="3.00" fill="#14148a" />
<rect x="434.90" y="182.30" width="1.00" height="3.00" fill="#14148a" />
<rect x="437.50" y="182.30" width="1.00" height="3.00" fill="#14148a" />
<polygon points="399.8,181.6 397.2,183.8 399.8,186.0" fill="#14148a"/>
<text x="417.2" y="198.0" font-size="8.6" text-anchor="middle" font-weight="bold" fill="#14146a" style="font-family:&quot;Liberation Sans&quot;" stroke="#14146a" stroke-width="0.55">IL1β<tspan font-size="6.4" dy="-1.4">*</tspan></text>
<rect x="464.82" y="130.80" width="1.25" height="2.00" fill="#10108c" />
<rect x="472.32" y="130.80" width="1.25" height="2.00" fill="#10108c" />
<rect x="484.60" y="129.80" width="2.30" height="3.00" fill="#10108c" />
<rect x="495.53" y="130.80" width="1.25" height="2.00" fill="#10108c" />
<rect x="507.80" y="128.80" width="2.40" height="4.00" fill="#10108c" />
<rect x="464.82" y="134.80" width="1.25" height="7.50" fill="#10108c" />
<rect x="472.32" y="134.80" width="1.25" height="7.50" fill="#10108c" />
<rect x="484.60" y="134.80" width="2.30" height="7.50" fill="#10108c" />
<rect x="495.53" y="134.80" width="1.25" height="7.50" fill="#10108c" />
<rect x="507.80" y="134.80" width="2.40" height="7.50" fill="#10108c" />
<rect x="464.82" y="151.10" width="1.25" height="1.00" fill="#5252b6" />
<rect x="472.32" y="150.10" width="1.25" height="2.00" fill="#10108c" />
<rect x="484.60" y="149.10" width="2.30" height="3.00" fill="#10108c" />
<rect x="495.53" y="151.10" width="1.25" height="1.00" fill="#5252b6" />
<rect x="507.80" y="147.10" width="2.40" height="5.00" fill="#10108c" />
<rect x="464.82" y="154.50" width="1.25" height="7.50" fill="#10108c" />
<rect x="472.32" y="154.50" width="1.25" height="7.50" fill="#10108c" />
<rect x="484.60" y="154.50" width="2.30" height="7.50" fill="#10108c" />
<rect x="495.53" y="154.50" width="1.25" height="7.50" fill="#10108c" />
<rect x="507.80" y="154.50" width="2.40" height="7.50" fill="#10108c" />
<rect x="464.82" y="164.00" width="1.25" height="7.50" fill="#10108c" />
<rect x="472.32" y="164.00" width="1.25" height="7.50" fill="#10108c" />
<rect x="484.60" y="164.00" width="2.30" height="7.50" fill="#10108c" />
<rect x="495.53" y="168.50" width="1.25" height="3.00" fill="#10108c" />
<rect x="507.80" y="164.00" width="2.40" height="7.50" fill="#10108c" />
<polygon points="496.5,171.5 496.5,170.0 503,170.3 504,169.5 506,168.5 508.2,166.5 508.2,171.5" fill="#10108c"/>
<rect x="464.90" y="183.80" width="45.10" height="1.00" fill="#4444a8" />
<rect x="464.90" y="182.80" width="1.10" height="3.00" fill="#14148a" />
<rect x="472.40" y="182.80" width="1.10" height="3.00" fill="#14148a" />
<rect x="484.90" y="182.80" width="1.60" height="3.00" fill="#14148a" />
<rect x="495.60" y="182.80" width="1.10" height="3.00" fill="#14148a" />
<rect x="508.20" y="182.55" width="2.00" height="3.50" fill="#14148a" />
<text x="487.0" y="198.0" font-size="8.6" text-anchor="middle" font-weight="bold" fill="#14146a" style="font-family:&quot;Liberation Sans&quot;" stroke="#14146a" stroke-width="0.55">HMOX1<tspan font-size="6.4" dy="-1.4">*</tspan></text>
<text x="316.3" y="235.9" font-size="11.5" text-anchor="start" font-weight="bold" fill="#000" style="font-family:&quot;Liberation Sans&quot;" >F</text>
<rect x="367.20" y="257.30" width="1.10" height="121.40" fill="#222" />
<rect x="367.20" y="377.60" width="125.00" height="1.10" fill="#222" />
<rect x="364.80" y="257.30" width="2.60" height="1.00" fill="#222" />
<text x="364.0" y="261.0" font-size="8.5" text-anchor="end" font-weight="normal" fill="#000" style="font-family:&quot;Liberation Sans&quot;" stroke="#000" stroke-width="0.3">30%</text>
<rect x="364.80" y="297.40" width="2.60" height="1.00" fill="#222" />
<text x="364.0" y="301.09999999999997" font-size="8.5" text-anchor="end" font-weight="normal" fill="#000" style="font-family:&quot;Liberation Sans&quot;" stroke="#000" stroke-width="0.3">20%</text>
<rect x="364.80" y="337.50" width="2.60" height="1.00" fill="#222" />
<text x="364.0" y="341.2" font-size="8.5" text-anchor="end" font-weight="normal" fill="#000" style="font-family:&quot;Liberation Sans&quot;" stroke="#000" stroke-width="0.3">10%</text>
<rect x="364.80" y="377.60" width="2.60" height="1.00" fill="#222" />
<text x="364.0" y="381.3" font-size="8.5" text-anchor="end" font-weight="normal" fill="#000" style="font-family:&quot;Liberation Sans&quot;" stroke="#000" stroke-width="0.3">0%</text>
<rect x="382.30" y="312.20" width="13.40" height="65.80" fill="#2f72ba" stroke="#1d3550" stroke-width="0.9"/>
<rect x="423.20" y="308.40" width="13.70" height="69.60" fill="#c2c2c2" stroke="#333" stroke-width="0.9"/>
<rect x="464.40" y="264.50" width="13.50" height="113.50" fill="#2f72ba" stroke="#1d3550" stroke-width="0.9"/>
<rect x="429.70" y="298.70" width="1.10" height="19.60" fill="#222" />
<rect x="426.80" y="298.20" width="6.60" height="1.10" fill="#222" />
<rect x="426.80" y="317.80" width="6.60" height="1.10" fill="#222" />
<path d="M389.7,276.6 V269.6 H429.9 V276.6" fill="none" stroke="#222" stroke-width="1"/>
<text x="409.6" y="267.8" font-size="8.5" text-anchor="middle" font-weight="normal" fill="#000" style="font-family:&quot;Liberation Sans&quot;" stroke="#000" stroke-width="0.3">ns</text>
<path d="M429.9,259.2 V252.7 H471.4 V259.2" fill="none" stroke="#222" stroke-width="1"/>
<text x="449.6" y="250.9" font-size="8.6" text-anchor="middle" fill="#000" stroke="#000" stroke-width="0.2" style="font-family:&quot;Liberation Sans&quot;"><tspan font-style="italic">p</tspan>&lt;0.0001</text>
<text x="390.6" y="391.3" font-size="9.6" text-anchor="middle" font-weight="bold" fill="#000" style="font-family:&quot;Liberation Serif&quot;" stroke="#000" stroke-width="0.25">K108E</text>
<text x="389.0" y="399.1" font-size="9.6" text-anchor="middle" font-weight="bold" fill="#000" style="font-family:&quot;Liberation Serif&quot;" stroke="#000" stroke-width="0.25">increased</text>
<text x="429.9" y="394.6" font-size="9.6" text-anchor="middle" font-weight="bold" fill="#000" style="font-family:&quot;Liberation Serif&quot;" stroke="#000" stroke-width="0.25">Rdm</text>
<text x="471.5" y="391.3" font-size="9.6" text-anchor="middle" font-weight="bold" fill="#000" style="font-family:&quot;Liberation Serif&quot;" stroke="#000" stroke-width="0.25">K108E</text>
<text x="470.9" y="399.1" font-size="9.6" text-anchor="middle" font-weight="bold" fill="#000" style="font-family:&quot;Liberation Serif&quot;" stroke="#000" stroke-width="0.25">decreased</text>
<text x="0" y="0" font-size="9.5" font-weight="bold" text-anchor="middle" fill="#000" stroke="#000" stroke-width="0.25" style="font-family:&quot;Liberation Serif&quot;" transform="translate(338.8,320.0) rotate(-90)">IRF8 associated genes</text>
</svg>
</body></html>
